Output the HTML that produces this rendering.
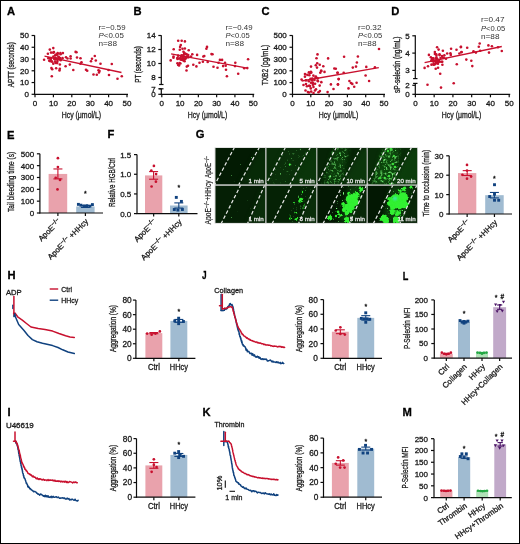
<!DOCTYPE html>
<html><head><meta charset="utf-8"><style>
html,body{margin:0;padding:0;background:#fff;overflow:hidden;}
svg{display:block;will-change:transform;}
text{font-family:"Liberation Sans",sans-serif;}
</style></head><body>
<svg width="520" height="544" viewBox="0 0 520 544" font-family="Liberation Sans, sans-serif">
<rect x="0" y="0" width="520" height="544" fill="#fff"/>
<text x="7.10" y="15.40" font-size="11.2" fill="#000" stroke="#000" stroke-width="0.3" font-weight="bold">A</text>
<line x1="34.60" y1="35.30" x2="34.60" y2="94.80" stroke="#0c0c0c" stroke-width="1.2"/>
<line x1="31.60" y1="94.30" x2="34.60" y2="94.30" stroke="#0c0c0c" stroke-width="1.2"/>
<text x="28.90" y="97.20" font-size="8" fill="#1a1a1a" stroke="#1a1a1a" stroke-width="0.3" text-anchor="end">0</text>
<line x1="31.60" y1="82.54" x2="34.60" y2="82.54" stroke="#0c0c0c" stroke-width="1.2"/>
<text x="28.90" y="85.44" font-size="8" fill="#1a1a1a" stroke="#1a1a1a" stroke-width="0.3" text-anchor="end">10</text>
<line x1="31.60" y1="70.78" x2="34.60" y2="70.78" stroke="#0c0c0c" stroke-width="1.2"/>
<text x="28.90" y="73.68" font-size="8" fill="#1a1a1a" stroke="#1a1a1a" stroke-width="0.3" text-anchor="end">20</text>
<line x1="31.60" y1="59.02" x2="34.60" y2="59.02" stroke="#0c0c0c" stroke-width="1.2"/>
<text x="28.90" y="61.92" font-size="8" fill="#1a1a1a" stroke="#1a1a1a" stroke-width="0.3" text-anchor="end">30</text>
<line x1="31.60" y1="47.26" x2="34.60" y2="47.26" stroke="#0c0c0c" stroke-width="1.2"/>
<text x="28.90" y="50.16" font-size="8" fill="#1a1a1a" stroke="#1a1a1a" stroke-width="0.3" text-anchor="end">40</text>
<line x1="31.60" y1="35.50" x2="34.60" y2="35.50" stroke="#0c0c0c" stroke-width="1.2"/>
<text x="28.90" y="38.40" font-size="8" fill="#1a1a1a" stroke="#1a1a1a" stroke-width="0.3" text-anchor="end">50</text>
<line x1="34.10" y1="94.30" x2="128.00" y2="94.30" stroke="#0c0c0c" stroke-width="1.2"/>
<line x1="35.00" y1="94.30" x2="35.00" y2="97.30" stroke="#0c0c0c" stroke-width="1.2"/>
<text x="35.00" y="106.20" font-size="8" fill="#1a1a1a" stroke="#1a1a1a" stroke-width="0.3" text-anchor="middle">0</text>
<line x1="53.40" y1="94.30" x2="53.40" y2="97.30" stroke="#0c0c0c" stroke-width="1.2"/>
<text x="53.40" y="106.20" font-size="8" fill="#1a1a1a" stroke="#1a1a1a" stroke-width="0.3" text-anchor="middle">10</text>
<line x1="71.80" y1="94.30" x2="71.80" y2="97.30" stroke="#0c0c0c" stroke-width="1.2"/>
<text x="71.80" y="106.20" font-size="8" fill="#1a1a1a" stroke="#1a1a1a" stroke-width="0.3" text-anchor="middle">20</text>
<line x1="90.20" y1="94.30" x2="90.20" y2="97.30" stroke="#0c0c0c" stroke-width="1.2"/>
<text x="90.20" y="106.20" font-size="8" fill="#1a1a1a" stroke="#1a1a1a" stroke-width="0.3" text-anchor="middle">30</text>
<line x1="108.60" y1="94.30" x2="108.60" y2="97.30" stroke="#0c0c0c" stroke-width="1.2"/>
<text x="108.60" y="106.20" font-size="8" fill="#1a1a1a" stroke="#1a1a1a" stroke-width="0.3" text-anchor="middle">40</text>
<line x1="127.00" y1="94.30" x2="127.00" y2="97.30" stroke="#0c0c0c" stroke-width="1.2"/>
<text x="127.00" y="106.20" font-size="8" fill="#1a1a1a" stroke="#1a1a1a" stroke-width="0.3" text-anchor="middle">50</text>
<text x="81.40" y="118.30" font-size="9" fill="#1a1a1a" stroke="#1a1a1a" stroke-width="0.3" text-anchor="middle" textLength="39.5" lengthAdjust="spacingAndGlyphs">Hcy (μmol/L)</text>
<text x="13.90" y="64.70" font-size="8.5" fill="#1a1a1a" stroke="#1a1a1a" stroke-width="0.3" text-anchor="middle" textLength="45" lengthAdjust="spacingAndGlyphs" transform="rotate(-90 13.90 64.70)">APTT (seconds)</text>
<text x="98.50" y="29.60" font-size="7.8" fill="#333" stroke="#333" stroke-width="0" textLength="27" lengthAdjust="spacingAndGlyphs">r=−0.59</text>
<text x="98.50" y="37.70" font-size="7.8" fill="#333" textLength="25.3" lengthAdjust="spacingAndGlyphs"><tspan font-style="italic">P</tspan>&lt;0.05</text>
<text x="98.50" y="46.10" font-size="7.8" fill="#333" stroke="#333" stroke-width="0" textLength="18.5" lengthAdjust="spacingAndGlyphs">n=88</text>
<line x1="44.50" y1="56.20" x2="121.50" y2="72.50" stroke="#c8102e" stroke-width="1.3"/>
<circle cx="53.30" cy="48.10" r="1.3" fill="#c8102e"/>
<circle cx="49.80" cy="49.60" r="1.3" fill="#c8102e"/>
<circle cx="47.90" cy="53.70" r="1.3" fill="#c8102e"/>
<circle cx="44.10" cy="59.80" r="1.3" fill="#c8102e"/>
<circle cx="50.20" cy="61.20" r="1.3" fill="#c8102e"/>
<circle cx="62.90" cy="53.10" r="1.3" fill="#c8102e"/>
<circle cx="60.60" cy="54.20" r="1.3" fill="#c8102e"/>
<circle cx="66.00" cy="57.30" r="1.3" fill="#c8102e"/>
<circle cx="67.50" cy="58.50" r="1.3" fill="#c8102e"/>
<circle cx="70.60" cy="56.20" r="1.3" fill="#c8102e"/>
<circle cx="70.60" cy="58.50" r="1.3" fill="#c8102e"/>
<circle cx="75.60" cy="51.90" r="1.3" fill="#c8102e"/>
<circle cx="69.80" cy="64.60" r="1.3" fill="#c8102e"/>
<circle cx="65.60" cy="66.20" r="1.3" fill="#c8102e"/>
<circle cx="51.40" cy="68.10" r="1.3" fill="#c8102e"/>
<circle cx="52.20" cy="69.20" r="1.3" fill="#c8102e"/>
<circle cx="59.80" cy="68.80" r="1.3" fill="#c8102e"/>
<circle cx="59.50" cy="70.40" r="1.3" fill="#c8102e"/>
<circle cx="73.30" cy="70.00" r="1.3" fill="#c8102e"/>
<circle cx="51.80" cy="76.20" r="1.3" fill="#c8102e"/>
<circle cx="76.50" cy="52.20" r="1.3" fill="#c8102e"/>
<circle cx="77.00" cy="57.50" r="1.3" fill="#c8102e"/>
<circle cx="80.50" cy="58.20" r="1.3" fill="#c8102e"/>
<circle cx="81.50" cy="62.20" r="1.3" fill="#c8102e"/>
<circle cx="80.50" cy="63.80" r="1.3" fill="#c8102e"/>
<circle cx="94.80" cy="56.00" r="1.3" fill="#c8102e"/>
<circle cx="92.00" cy="58.80" r="1.3" fill="#c8102e"/>
<circle cx="95.80" cy="60.50" r="1.3" fill="#c8102e"/>
<circle cx="91.00" cy="61.20" r="1.3" fill="#c8102e"/>
<circle cx="100.50" cy="63.80" r="1.3" fill="#c8102e"/>
<circle cx="111.80" cy="64.00" r="1.3" fill="#c8102e"/>
<circle cx="86.00" cy="69.80" r="1.3" fill="#c8102e"/>
<circle cx="87.20" cy="70.80" r="1.3" fill="#c8102e"/>
<circle cx="98.50" cy="70.20" r="1.3" fill="#c8102e"/>
<circle cx="99.50" cy="71.00" r="1.3" fill="#c8102e"/>
<circle cx="99.00" cy="72.50" r="1.3" fill="#c8102e"/>
<circle cx="93.50" cy="74.50" r="1.3" fill="#c8102e"/>
<circle cx="96.80" cy="74.70" r="1.3" fill="#c8102e"/>
<circle cx="108.50" cy="70.00" r="1.3" fill="#c8102e"/>
<circle cx="109.00" cy="75.00" r="1.3" fill="#c8102e"/>
<circle cx="117.50" cy="78.80" r="1.3" fill="#c8102e"/>
<circle cx="121.80" cy="76.30" r="1.3" fill="#c8102e"/>
<circle cx="59.86" cy="64.45" r="1.3" fill="#c8102e"/>
<circle cx="55.20" cy="55.37" r="1.3" fill="#c8102e"/>
<circle cx="50.79" cy="58.64" r="1.3" fill="#c8102e"/>
<circle cx="51.06" cy="52.62" r="1.3" fill="#c8102e"/>
<circle cx="55.71" cy="59.05" r="1.3" fill="#c8102e"/>
<circle cx="57.03" cy="54.76" r="1.3" fill="#c8102e"/>
<circle cx="54.97" cy="58.24" r="1.3" fill="#c8102e"/>
<circle cx="49.22" cy="60.71" r="1.3" fill="#c8102e"/>
<circle cx="56.17" cy="68.30" r="1.3" fill="#c8102e"/>
<circle cx="55.72" cy="57.91" r="1.3" fill="#c8102e"/>
<circle cx="59.65" cy="59.32" r="1.3" fill="#c8102e"/>
<circle cx="58.41" cy="57.01" r="1.3" fill="#c8102e"/>
<circle cx="55.78" cy="62.71" r="1.3" fill="#c8102e"/>
<circle cx="57.60" cy="59.03" r="1.3" fill="#c8102e"/>
<circle cx="50.83" cy="60.33" r="1.3" fill="#c8102e"/>
<circle cx="55.24" cy="61.46" r="1.3" fill="#c8102e"/>
<circle cx="55.77" cy="62.97" r="1.3" fill="#c8102e"/>
<circle cx="54.75" cy="59.34" r="1.3" fill="#c8102e"/>
<circle cx="57.49" cy="54.05" r="1.3" fill="#c8102e"/>
<circle cx="53.42" cy="56.46" r="1.3" fill="#c8102e"/>
<circle cx="62.50" cy="58.13" r="1.3" fill="#c8102e"/>
<circle cx="57.44" cy="61.05" r="1.3" fill="#c8102e"/>
<circle cx="53.88" cy="52.15" r="1.3" fill="#c8102e"/>
<circle cx="58.63" cy="56.84" r="1.3" fill="#c8102e"/>
<circle cx="57.69" cy="53.16" r="1.3" fill="#c8102e"/>
<circle cx="53.28" cy="63.66" r="1.3" fill="#c8102e"/>
<circle cx="60.40" cy="53.17" r="1.3" fill="#c8102e"/>
<circle cx="49.87" cy="58.33" r="1.3" fill="#c8102e"/>
<circle cx="57.73" cy="59.17" r="1.3" fill="#c8102e"/>
<circle cx="56.11" cy="54.45" r="1.3" fill="#c8102e"/>
<circle cx="57.19" cy="63.09" r="1.3" fill="#c8102e"/>
<circle cx="53.29" cy="52.63" r="1.3" fill="#c8102e"/>
<circle cx="52.06" cy="61.63" r="1.3" fill="#c8102e"/>
<circle cx="48.35" cy="58.13" r="1.3" fill="#c8102e"/>
<circle cx="51.18" cy="57.97" r="1.3" fill="#c8102e"/>
<circle cx="54.02" cy="58.57" r="1.3" fill="#c8102e"/>
<circle cx="60.67" cy="60.23" r="1.3" fill="#c8102e"/>
<circle cx="60.03" cy="57.93" r="1.3" fill="#c8102e"/>
<text x="133.60" y="15.40" font-size="11.2" fill="#000" stroke="#000" stroke-width="0.3" font-weight="bold">B</text>
<line x1="161.30" y1="35.30" x2="161.30" y2="84.50" stroke="#0c0c0c" stroke-width="1.2"/>
<line x1="159.10" y1="84.50" x2="163.50" y2="84.50" stroke="#0c0c0c" stroke-width="1.2"/>
<line x1="161.30" y1="88.80" x2="161.30" y2="94.80" stroke="#0c0c0c" stroke-width="1.2"/>
<line x1="159.10" y1="88.80" x2="163.50" y2="88.80" stroke="#0c0c0c" stroke-width="1.2"/>
<line x1="158.30" y1="35.50" x2="161.30" y2="35.50" stroke="#0c0c0c" stroke-width="1.2"/>
<text x="155.60" y="38.40" font-size="8" fill="#1a1a1a" stroke="#1a1a1a" stroke-width="0.3" text-anchor="end">14</text>
<line x1="158.30" y1="49.50" x2="161.30" y2="49.50" stroke="#0c0c0c" stroke-width="1.2"/>
<text x="155.60" y="52.40" font-size="8" fill="#1a1a1a" stroke="#1a1a1a" stroke-width="0.3" text-anchor="end">12</text>
<line x1="158.30" y1="63.50" x2="161.30" y2="63.50" stroke="#0c0c0c" stroke-width="1.2"/>
<text x="155.60" y="66.40" font-size="8" fill="#1a1a1a" stroke="#1a1a1a" stroke-width="0.3" text-anchor="end">10</text>
<line x1="158.30" y1="77.50" x2="161.30" y2="77.50" stroke="#0c0c0c" stroke-width="1.2"/>
<text x="155.60" y="80.40" font-size="8" fill="#1a1a1a" stroke="#1a1a1a" stroke-width="0.3" text-anchor="end">8</text>
<line x1="158.30" y1="88.80" x2="161.30" y2="88.80" stroke="#0c0c0c" stroke-width="1.2"/>
<text x="155.60" y="91.70" font-size="8" fill="#1a1a1a" stroke="#1a1a1a" stroke-width="0.3" text-anchor="end">7</text>
<line x1="158.30" y1="94.30" x2="161.30" y2="94.30" stroke="#0c0c0c" stroke-width="1.2"/>
<text x="155.60" y="97.20" font-size="8" fill="#1a1a1a" stroke="#1a1a1a" stroke-width="0.3" text-anchor="end">0</text>
<line x1="160.80" y1="94.30" x2="254.20" y2="94.30" stroke="#0c0c0c" stroke-width="1.2"/>
<line x1="161.80" y1="94.30" x2="161.80" y2="97.30" stroke="#0c0c0c" stroke-width="1.2"/>
<text x="161.80" y="106.20" font-size="8" fill="#1a1a1a" stroke="#1a1a1a" stroke-width="0.3" text-anchor="middle">0</text>
<line x1="180.08" y1="94.30" x2="180.08" y2="97.30" stroke="#0c0c0c" stroke-width="1.2"/>
<text x="180.08" y="106.20" font-size="8" fill="#1a1a1a" stroke="#1a1a1a" stroke-width="0.3" text-anchor="middle">10</text>
<line x1="198.36" y1="94.30" x2="198.36" y2="97.30" stroke="#0c0c0c" stroke-width="1.2"/>
<text x="198.36" y="106.20" font-size="8" fill="#1a1a1a" stroke="#1a1a1a" stroke-width="0.3" text-anchor="middle">20</text>
<line x1="216.64" y1="94.30" x2="216.64" y2="97.30" stroke="#0c0c0c" stroke-width="1.2"/>
<text x="216.64" y="106.20" font-size="8" fill="#1a1a1a" stroke="#1a1a1a" stroke-width="0.3" text-anchor="middle">30</text>
<line x1="234.92" y1="94.30" x2="234.92" y2="97.30" stroke="#0c0c0c" stroke-width="1.2"/>
<text x="234.92" y="106.20" font-size="8" fill="#1a1a1a" stroke="#1a1a1a" stroke-width="0.3" text-anchor="middle">40</text>
<line x1="253.20" y1="94.30" x2="253.20" y2="97.30" stroke="#0c0c0c" stroke-width="1.2"/>
<text x="253.20" y="106.20" font-size="8" fill="#1a1a1a" stroke="#1a1a1a" stroke-width="0.3" text-anchor="middle">50</text>
<text x="207.50" y="118.30" font-size="9" fill="#1a1a1a" stroke="#1a1a1a" stroke-width="0.3" text-anchor="middle" textLength="39.5" lengthAdjust="spacingAndGlyphs">Hcy (μmol/L)</text>
<text x="141.50" y="64.40" font-size="8.5" fill="#1a1a1a" stroke="#1a1a1a" stroke-width="0.3" text-anchor="middle" textLength="36.6" lengthAdjust="spacingAndGlyphs" transform="rotate(-90 141.50 64.40)">PT (seconds)</text>
<text x="225.50" y="29.60" font-size="7.8" fill="#333" stroke="#333" stroke-width="0" textLength="27" lengthAdjust="spacingAndGlyphs">r=−0.49</text>
<text x="225.50" y="37.70" font-size="7.8" fill="#333" textLength="24.3" lengthAdjust="spacingAndGlyphs"><tspan font-style="italic">P</tspan>&lt;0.05</text>
<text x="225.50" y="46.10" font-size="7.8" fill="#333" stroke="#333" stroke-width="0" textLength="18.5" lengthAdjust="spacingAndGlyphs">n=88</text>
<line x1="171.10" y1="53.90" x2="247.30" y2="68.10" stroke="#c8102e" stroke-width="1.3"/>
<circle cx="178.20" cy="40.80" r="1.3" fill="#c8102e"/>
<circle cx="181.70" cy="40.80" r="1.3" fill="#c8102e"/>
<circle cx="184.90" cy="41.40" r="1.3" fill="#c8102e"/>
<circle cx="180.80" cy="45.00" r="1.3" fill="#c8102e"/>
<circle cx="180.10" cy="46.90" r="1.3" fill="#c8102e"/>
<circle cx="179.80" cy="49.80" r="1.3" fill="#c8102e"/>
<circle cx="173.70" cy="49.30" r="1.3" fill="#c8102e"/>
<circle cx="184.90" cy="48.50" r="1.3" fill="#c8102e"/>
<circle cx="188.70" cy="50.30" r="1.3" fill="#c8102e"/>
<circle cx="207.00" cy="46.90" r="1.3" fill="#c8102e"/>
<circle cx="206.40" cy="48.80" r="1.3" fill="#c8102e"/>
<circle cx="192.30" cy="54.30" r="1.3" fill="#c8102e"/>
<circle cx="197.10" cy="54.90" r="1.3" fill="#c8102e"/>
<circle cx="203.30" cy="56.50" r="1.3" fill="#c8102e"/>
<circle cx="204.30" cy="56.00" r="1.3" fill="#c8102e"/>
<circle cx="170.70" cy="60.40" r="1.3" fill="#c8102e"/>
<circle cx="173.50" cy="56.50" r="1.3" fill="#c8102e"/>
<circle cx="177.40" cy="63.30" r="1.3" fill="#c8102e"/>
<circle cx="178.20" cy="64.90" r="1.3" fill="#c8102e"/>
<circle cx="193.30" cy="64.70" r="1.3" fill="#c8102e"/>
<circle cx="196.40" cy="66.40" r="1.3" fill="#c8102e"/>
<circle cx="186.80" cy="66.60" r="1.3" fill="#c8102e"/>
<circle cx="188.00" cy="65.80" r="1.3" fill="#c8102e"/>
<circle cx="186.50" cy="70.50" r="1.3" fill="#c8102e"/>
<circle cx="199.50" cy="62.80" r="1.3" fill="#c8102e"/>
<circle cx="202.90" cy="61.80" r="1.3" fill="#c8102e"/>
<circle cx="207.70" cy="62.00" r="1.3" fill="#c8102e"/>
<circle cx="211.50" cy="54.10" r="1.3" fill="#c8102e"/>
<circle cx="212.50" cy="54.30" r="1.3" fill="#c8102e"/>
<circle cx="213.50" cy="66.80" r="1.3" fill="#c8102e"/>
<circle cx="217.50" cy="67.80" r="1.3" fill="#c8102e"/>
<circle cx="219.90" cy="59.90" r="1.3" fill="#c8102e"/>
<circle cx="222.10" cy="59.90" r="1.3" fill="#c8102e"/>
<circle cx="218.50" cy="62.80" r="1.3" fill="#c8102e"/>
<circle cx="225.00" cy="62.80" r="1.3" fill="#c8102e"/>
<circle cx="223.10" cy="66.10" r="1.3" fill="#c8102e"/>
<circle cx="225.70" cy="65.80" r="1.3" fill="#c8102e"/>
<circle cx="226.00" cy="69.70" r="1.3" fill="#c8102e"/>
<circle cx="226.90" cy="76.20" r="1.3" fill="#c8102e"/>
<circle cx="235.30" cy="62.80" r="1.3" fill="#c8102e"/>
<circle cx="235.00" cy="66.10" r="1.3" fill="#c8102e"/>
<circle cx="238.20" cy="73.80" r="1.3" fill="#c8102e"/>
<circle cx="244.20" cy="68.30" r="1.3" fill="#c8102e"/>
<circle cx="248.10" cy="59.20" r="1.3" fill="#c8102e"/>
<circle cx="247.30" cy="68.10" r="1.3" fill="#c8102e"/>
<circle cx="190.98" cy="56.48" r="1.3" fill="#c8102e"/>
<circle cx="185.28" cy="58.97" r="1.3" fill="#c8102e"/>
<circle cx="186.57" cy="54.21" r="1.3" fill="#c8102e"/>
<circle cx="182.90" cy="56.21" r="1.3" fill="#c8102e"/>
<circle cx="180.97" cy="55.92" r="1.3" fill="#c8102e"/>
<circle cx="182.62" cy="57.63" r="1.3" fill="#c8102e"/>
<circle cx="181.46" cy="59.81" r="1.3" fill="#c8102e"/>
<circle cx="182.51" cy="48.69" r="1.3" fill="#c8102e"/>
<circle cx="187.61" cy="57.31" r="1.3" fill="#c8102e"/>
<circle cx="181.94" cy="59.34" r="1.3" fill="#c8102e"/>
<circle cx="184.79" cy="58.68" r="1.3" fill="#c8102e"/>
<circle cx="181.61" cy="59.10" r="1.3" fill="#c8102e"/>
<circle cx="179.61" cy="62.95" r="1.3" fill="#c8102e"/>
<circle cx="180.41" cy="57.88" r="1.3" fill="#c8102e"/>
<circle cx="184.17" cy="59.19" r="1.3" fill="#c8102e"/>
<circle cx="183.40" cy="60.00" r="1.3" fill="#c8102e"/>
<circle cx="173.46" cy="57.80" r="1.3" fill="#c8102e"/>
<circle cx="183.27" cy="56.78" r="1.3" fill="#c8102e"/>
<circle cx="188.23" cy="55.12" r="1.3" fill="#c8102e"/>
<circle cx="183.49" cy="51.86" r="1.3" fill="#c8102e"/>
<circle cx="184.54" cy="53.11" r="1.3" fill="#c8102e"/>
<circle cx="179.11" cy="65.39" r="1.3" fill="#c8102e"/>
<circle cx="185.81" cy="58.08" r="1.3" fill="#c8102e"/>
<circle cx="184.24" cy="53.65" r="1.3" fill="#c8102e"/>
<circle cx="180.62" cy="59.42" r="1.3" fill="#c8102e"/>
<circle cx="177.46" cy="58.95" r="1.3" fill="#c8102e"/>
<circle cx="178.58" cy="58.48" r="1.3" fill="#c8102e"/>
<circle cx="180.43" cy="63.57" r="1.3" fill="#c8102e"/>
<circle cx="186.75" cy="56.50" r="1.3" fill="#c8102e"/>
<circle cx="178.11" cy="55.66" r="1.3" fill="#c8102e"/>
<circle cx="183.56" cy="55.02" r="1.3" fill="#c8102e"/>
<circle cx="184.58" cy="61.19" r="1.3" fill="#c8102e"/>
<circle cx="183.57" cy="56.76" r="1.3" fill="#c8102e"/>
<circle cx="186.06" cy="57.19" r="1.3" fill="#c8102e"/>
<circle cx="186.26" cy="57.12" r="1.3" fill="#c8102e"/>
<circle cx="188.55" cy="57.24" r="1.3" fill="#c8102e"/>
<circle cx="180.58" cy="58.42" r="1.3" fill="#c8102e"/>
<circle cx="181.85" cy="55.18" r="1.3" fill="#c8102e"/>
<circle cx="183.36" cy="60.46" r="1.3" fill="#c8102e"/>
<circle cx="177.30" cy="57.98" r="1.3" fill="#c8102e"/>
<circle cx="183.29" cy="57.66" r="1.3" fill="#c8102e"/>
<circle cx="186.14" cy="54.05" r="1.3" fill="#c8102e"/>
<text x="261.40" y="15.40" font-size="11.2" fill="#000" stroke="#000" stroke-width="0.3" font-weight="bold">C</text>
<line x1="292.50" y1="35.30" x2="292.50" y2="94.80" stroke="#0c0c0c" stroke-width="1.2"/>
<line x1="289.50" y1="94.30" x2="292.50" y2="94.30" stroke="#0c0c0c" stroke-width="1.2"/>
<text x="286.80" y="97.20" font-size="8" fill="#1a1a1a" stroke="#1a1a1a" stroke-width="0.3" text-anchor="end">0</text>
<line x1="289.50" y1="82.54" x2="292.50" y2="82.54" stroke="#0c0c0c" stroke-width="1.2"/>
<text x="286.80" y="85.44" font-size="8" fill="#1a1a1a" stroke="#1a1a1a" stroke-width="0.3" text-anchor="end">100</text>
<line x1="289.50" y1="70.78" x2="292.50" y2="70.78" stroke="#0c0c0c" stroke-width="1.2"/>
<text x="286.80" y="73.68" font-size="8" fill="#1a1a1a" stroke="#1a1a1a" stroke-width="0.3" text-anchor="end">200</text>
<line x1="289.50" y1="59.02" x2="292.50" y2="59.02" stroke="#0c0c0c" stroke-width="1.2"/>
<text x="286.80" y="61.92" font-size="8" fill="#1a1a1a" stroke="#1a1a1a" stroke-width="0.3" text-anchor="end">300</text>
<line x1="289.50" y1="47.26" x2="292.50" y2="47.26" stroke="#0c0c0c" stroke-width="1.2"/>
<text x="286.80" y="50.16" font-size="8" fill="#1a1a1a" stroke="#1a1a1a" stroke-width="0.3" text-anchor="end">400</text>
<line x1="289.50" y1="35.50" x2="292.50" y2="35.50" stroke="#0c0c0c" stroke-width="1.2"/>
<text x="286.80" y="38.40" font-size="8" fill="#1a1a1a" stroke="#1a1a1a" stroke-width="0.3" text-anchor="end">500</text>
<line x1="292.00" y1="94.30" x2="385.00" y2="94.30" stroke="#0c0c0c" stroke-width="1.2"/>
<line x1="292.50" y1="94.30" x2="292.50" y2="97.30" stroke="#0c0c0c" stroke-width="1.2"/>
<text x="292.50" y="106.20" font-size="8" fill="#1a1a1a" stroke="#1a1a1a" stroke-width="0.3" text-anchor="middle">0</text>
<line x1="310.80" y1="94.30" x2="310.80" y2="97.30" stroke="#0c0c0c" stroke-width="1.2"/>
<text x="310.80" y="106.20" font-size="8" fill="#1a1a1a" stroke="#1a1a1a" stroke-width="0.3" text-anchor="middle">10</text>
<line x1="329.10" y1="94.30" x2="329.10" y2="97.30" stroke="#0c0c0c" stroke-width="1.2"/>
<text x="329.10" y="106.20" font-size="8" fill="#1a1a1a" stroke="#1a1a1a" stroke-width="0.3" text-anchor="middle">20</text>
<line x1="347.40" y1="94.30" x2="347.40" y2="97.30" stroke="#0c0c0c" stroke-width="1.2"/>
<text x="347.40" y="106.20" font-size="8" fill="#1a1a1a" stroke="#1a1a1a" stroke-width="0.3" text-anchor="middle">30</text>
<line x1="365.70" y1="94.30" x2="365.70" y2="97.30" stroke="#0c0c0c" stroke-width="1.2"/>
<text x="365.70" y="106.20" font-size="8" fill="#1a1a1a" stroke="#1a1a1a" stroke-width="0.3" text-anchor="middle">40</text>
<line x1="384.00" y1="94.30" x2="384.00" y2="97.30" stroke="#0c0c0c" stroke-width="1.2"/>
<text x="384.00" y="106.20" font-size="8" fill="#1a1a1a" stroke="#1a1a1a" stroke-width="0.3" text-anchor="middle">50</text>
<text x="338.50" y="118.30" font-size="9" fill="#1a1a1a" stroke="#1a1a1a" stroke-width="0.3" text-anchor="middle" textLength="39.5" lengthAdjust="spacingAndGlyphs">Hcy (μmol/L)</text>
<text x="268.30" y="65.00" font-size="8.5" fill="#1a1a1a" stroke="#1a1a1a" stroke-width="0.3" text-anchor="middle" textLength="40.5" lengthAdjust="spacingAndGlyphs" transform="rotate(-90 268.30 65.00)">TXB2 (pg/mL)</text>
<text x="358.00" y="29.60" font-size="7.8" fill="#333" stroke="#333" stroke-width="0" textLength="23.5" lengthAdjust="spacingAndGlyphs">r=0.32</text>
<text x="358.00" y="37.70" font-size="7.8" fill="#333" textLength="24.3" lengthAdjust="spacingAndGlyphs"><tspan font-style="italic">P</tspan>&lt;0.05</text>
<text x="358.00" y="46.10" font-size="7.8" fill="#333" stroke="#333" stroke-width="0" textLength="18.5" lengthAdjust="spacingAndGlyphs">n=88</text>
<line x1="301.60" y1="81.00" x2="378.80" y2="67.60" stroke="#c8102e" stroke-width="1.3"/>
<circle cx="317.50" cy="54.40" r="1.3" fill="#c8102e"/>
<circle cx="316.50" cy="58.20" r="1.3" fill="#c8102e"/>
<circle cx="328.10" cy="58.40" r="1.3" fill="#c8102e"/>
<circle cx="317.20" cy="63.20" r="1.3" fill="#c8102e"/>
<circle cx="315.80" cy="65.30" r="1.3" fill="#c8102e"/>
<circle cx="319.70" cy="64.70" r="1.3" fill="#c8102e"/>
<circle cx="317.00" cy="67.60" r="1.3" fill="#c8102e"/>
<circle cx="311.00" cy="66.60" r="1.3" fill="#c8102e"/>
<circle cx="323.30" cy="66.30" r="1.3" fill="#c8102e"/>
<circle cx="334.30" cy="68.50" r="1.3" fill="#c8102e"/>
<circle cx="335.80" cy="68.80" r="1.3" fill="#c8102e"/>
<circle cx="305.00" cy="74.00" r="1.3" fill="#c8102e"/>
<circle cx="309.80" cy="73.30" r="1.3" fill="#c8102e"/>
<circle cx="309.30" cy="75.30" r="1.3" fill="#c8102e"/>
<circle cx="324.50" cy="71.90" r="1.3" fill="#c8102e"/>
<circle cx="337.70" cy="72.80" r="1.3" fill="#c8102e"/>
<circle cx="301.60" cy="79.60" r="1.3" fill="#c8102e"/>
<circle cx="338.60" cy="79.10" r="1.3" fill="#c8102e"/>
<circle cx="330.90" cy="84.40" r="1.3" fill="#c8102e"/>
<circle cx="338.00" cy="84.40" r="1.3" fill="#c8102e"/>
<circle cx="333.50" cy="89.00" r="1.3" fill="#c8102e"/>
<circle cx="327.60" cy="92.10" r="1.3" fill="#c8102e"/>
<circle cx="310.80" cy="88.40" r="1.3" fill="#c8102e"/>
<circle cx="307.90" cy="92.10" r="1.3" fill="#c8102e"/>
<circle cx="311.20" cy="91.60" r="1.3" fill="#c8102e"/>
<circle cx="316.00" cy="89.20" r="1.3" fill="#c8102e"/>
<circle cx="319.90" cy="91.10" r="1.3" fill="#c8102e"/>
<circle cx="379.00" cy="49.00" r="1.3" fill="#c8102e"/>
<circle cx="344.10" cy="56.70" r="1.3" fill="#c8102e"/>
<circle cx="357.90" cy="56.50" r="1.3" fill="#c8102e"/>
<circle cx="356.90" cy="62.50" r="1.3" fill="#c8102e"/>
<circle cx="356.00" cy="66.60" r="1.3" fill="#c8102e"/>
<circle cx="352.80" cy="67.60" r="1.3" fill="#c8102e"/>
<circle cx="366.30" cy="66.90" r="1.3" fill="#c8102e"/>
<circle cx="374.90" cy="67.30" r="1.3" fill="#c8102e"/>
<circle cx="337.40" cy="72.80" r="1.3" fill="#c8102e"/>
<circle cx="343.70" cy="72.70" r="1.3" fill="#c8102e"/>
<circle cx="338.70" cy="79.10" r="1.3" fill="#c8102e"/>
<circle cx="337.90" cy="84.40" r="1.3" fill="#c8102e"/>
<circle cx="365.60" cy="75.50" r="1.3" fill="#c8102e"/>
<circle cx="369.10" cy="81.00" r="1.3" fill="#c8102e"/>
<circle cx="349.40" cy="81.00" r="1.3" fill="#c8102e"/>
<circle cx="350.90" cy="83.00" r="1.3" fill="#c8102e"/>
<circle cx="352.30" cy="83.90" r="1.3" fill="#c8102e"/>
<circle cx="356.60" cy="82.70" r="1.3" fill="#c8102e"/>
<circle cx="354.20" cy="86.80" r="1.3" fill="#c8102e"/>
<circle cx="348.50" cy="88.40" r="1.3" fill="#c8102e"/>
<circle cx="313.48" cy="86.91" r="1.3" fill="#c8102e"/>
<circle cx="309.02" cy="85.79" r="1.3" fill="#c8102e"/>
<circle cx="311.94" cy="80.29" r="1.3" fill="#c8102e"/>
<circle cx="321.32" cy="82.13" r="1.3" fill="#c8102e"/>
<circle cx="312.88" cy="84.63" r="1.3" fill="#c8102e"/>
<circle cx="317.96" cy="81.30" r="1.3" fill="#c8102e"/>
<circle cx="315.62" cy="77.17" r="1.3" fill="#c8102e"/>
<circle cx="311.47" cy="79.52" r="1.3" fill="#c8102e"/>
<circle cx="307.27" cy="74.83" r="1.3" fill="#c8102e"/>
<circle cx="305.99" cy="80.39" r="1.3" fill="#c8102e"/>
<circle cx="312.31" cy="80.04" r="1.3" fill="#c8102e"/>
<circle cx="313.36" cy="75.59" r="1.3" fill="#c8102e"/>
<circle cx="312.72" cy="82.48" r="1.3" fill="#c8102e"/>
<circle cx="316.33" cy="77.73" r="1.3" fill="#c8102e"/>
<circle cx="311.33" cy="72.61" r="1.3" fill="#c8102e"/>
<circle cx="310.87" cy="71.82" r="1.3" fill="#c8102e"/>
<circle cx="306.89" cy="86.26" r="1.3" fill="#c8102e"/>
<circle cx="303.50" cy="84.94" r="1.3" fill="#c8102e"/>
<circle cx="314.49" cy="80.07" r="1.3" fill="#c8102e"/>
<circle cx="315.06" cy="83.75" r="1.3" fill="#c8102e"/>
<circle cx="317.61" cy="80.43" r="1.3" fill="#c8102e"/>
<circle cx="310.49" cy="78.79" r="1.3" fill="#c8102e"/>
<circle cx="308.78" cy="81.24" r="1.3" fill="#c8102e"/>
<circle cx="309.65" cy="86.12" r="1.3" fill="#c8102e"/>
<circle cx="304.94" cy="76.65" r="1.3" fill="#c8102e"/>
<circle cx="308.92" cy="72.27" r="1.3" fill="#c8102e"/>
<circle cx="321.33" cy="70.89" r="1.3" fill="#c8102e"/>
<circle cx="311.83" cy="79.14" r="1.3" fill="#c8102e"/>
<circle cx="320.26" cy="72.74" r="1.3" fill="#c8102e"/>
<circle cx="317.72" cy="78.24" r="1.3" fill="#c8102e"/>
<circle cx="312.39" cy="78.50" r="1.3" fill="#c8102e"/>
<circle cx="315.85" cy="76.46" r="1.3" fill="#c8102e"/>
<circle cx="312.72" cy="82.99" r="1.3" fill="#c8102e"/>
<circle cx="321.06" cy="70.90" r="1.3" fill="#c8102e"/>
<circle cx="319.69" cy="85.59" r="1.3" fill="#c8102e"/>
<circle cx="310.96" cy="82.78" r="1.3" fill="#c8102e"/>
<circle cx="305.50" cy="90.50" r="1.3" fill="#c8102e"/>
<circle cx="309.00" cy="92.50" r="1.3" fill="#c8102e"/>
<circle cx="313.50" cy="93.00" r="1.3" fill="#c8102e"/>
<circle cx="315.00" cy="90.50" r="1.3" fill="#c8102e"/>
<circle cx="318.50" cy="92.20" r="1.3" fill="#c8102e"/>
<circle cx="310.00" cy="86.00" r="1.3" fill="#c8102e"/>
<circle cx="306.00" cy="84.00" r="1.3" fill="#c8102e"/>
<text x="391.20" y="15.40" font-size="11.2" fill="#000" stroke="#000" stroke-width="0.3" font-weight="bold">D</text>
<line x1="415.30" y1="35.30" x2="415.30" y2="78.60" stroke="#0c0c0c" stroke-width="1.2"/>
<line x1="413.10" y1="78.60" x2="417.50" y2="78.60" stroke="#0c0c0c" stroke-width="1.2"/>
<line x1="415.30" y1="83.40" x2="415.30" y2="94.80" stroke="#0c0c0c" stroke-width="1.2"/>
<line x1="413.10" y1="83.40" x2="417.50" y2="83.40" stroke="#0c0c0c" stroke-width="1.2"/>
<line x1="412.30" y1="35.80" x2="415.30" y2="35.80" stroke="#0c0c0c" stroke-width="1.2"/>
<text x="409.60" y="38.70" font-size="8" fill="#1a1a1a" stroke="#1a1a1a" stroke-width="0.3" text-anchor="end">5</text>
<line x1="412.30" y1="53.10" x2="415.30" y2="53.10" stroke="#0c0c0c" stroke-width="1.2"/>
<text x="409.60" y="56.00" font-size="8" fill="#1a1a1a" stroke="#1a1a1a" stroke-width="0.3" text-anchor="end">4</text>
<line x1="412.30" y1="70.40" x2="415.30" y2="70.40" stroke="#0c0c0c" stroke-width="1.2"/>
<text x="409.60" y="73.30" font-size="8" fill="#1a1a1a" stroke="#1a1a1a" stroke-width="0.3" text-anchor="end">3</text>
<line x1="412.30" y1="85.30" x2="415.30" y2="85.30" stroke="#0c0c0c" stroke-width="1.2"/>
<text x="409.60" y="88.20" font-size="8" fill="#1a1a1a" stroke="#1a1a1a" stroke-width="0.3" text-anchor="end">2</text>
<line x1="412.30" y1="94.30" x2="415.30" y2="94.30" stroke="#0c0c0c" stroke-width="1.2"/>
<text x="409.60" y="97.20" font-size="8" fill="#1a1a1a" stroke="#1a1a1a" stroke-width="0.3" text-anchor="end">0</text>
<line x1="414.80" y1="94.30" x2="510.20" y2="94.30" stroke="#0c0c0c" stroke-width="1.2"/>
<line x1="415.40" y1="94.30" x2="415.40" y2="97.30" stroke="#0c0c0c" stroke-width="1.2"/>
<text x="415.40" y="106.20" font-size="8" fill="#1a1a1a" stroke="#1a1a1a" stroke-width="0.3" text-anchor="middle">0</text>
<line x1="434.16" y1="94.30" x2="434.16" y2="97.30" stroke="#0c0c0c" stroke-width="1.2"/>
<text x="434.16" y="106.20" font-size="8" fill="#1a1a1a" stroke="#1a1a1a" stroke-width="0.3" text-anchor="middle">10</text>
<line x1="452.92" y1="94.30" x2="452.92" y2="97.30" stroke="#0c0c0c" stroke-width="1.2"/>
<text x="452.92" y="106.20" font-size="8" fill="#1a1a1a" stroke="#1a1a1a" stroke-width="0.3" text-anchor="middle">20</text>
<line x1="471.68" y1="94.30" x2="471.68" y2="97.30" stroke="#0c0c0c" stroke-width="1.2"/>
<text x="471.68" y="106.20" font-size="8" fill="#1a1a1a" stroke="#1a1a1a" stroke-width="0.3" text-anchor="middle">30</text>
<line x1="490.44" y1="94.30" x2="490.44" y2="97.30" stroke="#0c0c0c" stroke-width="1.2"/>
<text x="490.44" y="106.20" font-size="8" fill="#1a1a1a" stroke="#1a1a1a" stroke-width="0.3" text-anchor="middle">40</text>
<line x1="509.20" y1="94.30" x2="509.20" y2="97.30" stroke="#0c0c0c" stroke-width="1.2"/>
<text x="509.20" y="106.20" font-size="8" fill="#1a1a1a" stroke="#1a1a1a" stroke-width="0.3" text-anchor="middle">50</text>
<text x="461.50" y="118.30" font-size="9" fill="#1a1a1a" stroke="#1a1a1a" stroke-width="0.3" text-anchor="middle" textLength="39.5" lengthAdjust="spacingAndGlyphs">Hcy (μmol/L)</text>
<text x="399.80" y="64.70" font-size="8.5" fill="#1a1a1a" stroke="#1a1a1a" stroke-width="0.3" text-anchor="middle" textLength="56.5" lengthAdjust="spacingAndGlyphs" transform="rotate(-90 399.80 64.70)">sP-selectin (ng/mL)</text>
<text x="481.00" y="22.20" font-size="7.8" fill="#333" stroke="#333" stroke-width="0" textLength="23.5" lengthAdjust="spacingAndGlyphs">r=0.47</text>
<text x="481.00" y="30.80" font-size="7.8" fill="#333" textLength="24.3" lengthAdjust="spacingAndGlyphs"><tspan font-style="italic">P</tspan>&lt;0.05</text>
<text x="481.00" y="39.40" font-size="7.8" fill="#333" stroke="#333" stroke-width="0" textLength="18.5" lengthAdjust="spacingAndGlyphs">n=88</text>
<line x1="424.60" y1="62.60" x2="501.80" y2="46.50" stroke="#c8102e" stroke-width="1.3"/>
<circle cx="437.10" cy="47.20" r="1.3" fill="#c8102e"/>
<circle cx="438.60" cy="49.60" r="1.3" fill="#c8102e"/>
<circle cx="442.90" cy="50.80" r="1.3" fill="#c8102e"/>
<circle cx="451.10" cy="48.70" r="1.3" fill="#c8102e"/>
<circle cx="456.50" cy="49.80" r="1.3" fill="#c8102e"/>
<circle cx="461.00" cy="46.90" r="1.3" fill="#c8102e"/>
<circle cx="428.90" cy="54.90" r="1.3" fill="#c8102e"/>
<circle cx="436.20" cy="54.20" r="1.3" fill="#c8102e"/>
<circle cx="439.50" cy="54.40" r="1.3" fill="#c8102e"/>
<circle cx="447.20" cy="53.50" r="1.3" fill="#c8102e"/>
<circle cx="450.40" cy="53.30" r="1.3" fill="#c8102e"/>
<circle cx="450.80" cy="54.90" r="1.3" fill="#c8102e"/>
<circle cx="461.60" cy="52.00" r="1.3" fill="#c8102e"/>
<circle cx="459.40" cy="53.50" r="1.3" fill="#c8102e"/>
<circle cx="446.00" cy="58.80" r="1.3" fill="#c8102e"/>
<circle cx="424.60" cy="67.90" r="1.3" fill="#c8102e"/>
<circle cx="428.00" cy="66.20" r="1.3" fill="#c8102e"/>
<circle cx="435.70" cy="68.80" r="1.3" fill="#c8102e"/>
<circle cx="442.40" cy="64.80" r="1.3" fill="#c8102e"/>
<circle cx="456.80" cy="64.20" r="1.3" fill="#c8102e"/>
<circle cx="440.20" cy="73.80" r="1.3" fill="#c8102e"/>
<circle cx="427.50" cy="84.70" r="1.3" fill="#c8102e"/>
<circle cx="441.00" cy="87.60" r="1.3" fill="#c8102e"/>
<circle cx="453.70" cy="83.30" r="1.3" fill="#c8102e"/>
<circle cx="460.80" cy="47.10" r="1.3" fill="#c8102e"/>
<circle cx="467.20" cy="47.80" r="1.3" fill="#c8102e"/>
<circle cx="461.40" cy="52.30" r="1.3" fill="#c8102e"/>
<circle cx="479.70" cy="43.50" r="1.3" fill="#c8102e"/>
<circle cx="478.80" cy="46.80" r="1.3" fill="#c8102e"/>
<circle cx="488.40" cy="45.40" r="1.3" fill="#c8102e"/>
<circle cx="491.90" cy="46.30" r="1.3" fill="#c8102e"/>
<circle cx="498.00" cy="47.30" r="1.3" fill="#c8102e"/>
<circle cx="473.50" cy="51.30" r="1.3" fill="#c8102e"/>
<circle cx="475.90" cy="52.60" r="1.3" fill="#c8102e"/>
<circle cx="480.20" cy="50.70" r="1.3" fill="#c8102e"/>
<circle cx="489.00" cy="52.60" r="1.3" fill="#c8102e"/>
<circle cx="501.80" cy="51.00" r="1.3" fill="#c8102e"/>
<circle cx="466.30" cy="59.60" r="1.3" fill="#c8102e"/>
<circle cx="471.30" cy="60.80" r="1.3" fill="#c8102e"/>
<circle cx="472.30" cy="66.10" r="1.3" fill="#c8102e"/>
<circle cx="436.05" cy="61.89" r="1.3" fill="#c8102e"/>
<circle cx="433.89" cy="61.52" r="1.3" fill="#c8102e"/>
<circle cx="439.85" cy="61.71" r="1.3" fill="#c8102e"/>
<circle cx="442.57" cy="57.44" r="1.3" fill="#c8102e"/>
<circle cx="436.16" cy="58.03" r="1.3" fill="#c8102e"/>
<circle cx="432.51" cy="59.75" r="1.3" fill="#c8102e"/>
<circle cx="436.82" cy="61.74" r="1.3" fill="#c8102e"/>
<circle cx="438.05" cy="67.73" r="1.3" fill="#c8102e"/>
<circle cx="439.57" cy="55.10" r="1.3" fill="#c8102e"/>
<circle cx="436.75" cy="58.30" r="1.3" fill="#c8102e"/>
<circle cx="433.66" cy="64.67" r="1.3" fill="#c8102e"/>
<circle cx="434.91" cy="53.92" r="1.3" fill="#c8102e"/>
<circle cx="437.20" cy="59.40" r="1.3" fill="#c8102e"/>
<circle cx="430.83" cy="57.32" r="1.3" fill="#c8102e"/>
<circle cx="433.19" cy="60.28" r="1.3" fill="#c8102e"/>
<circle cx="434.04" cy="60.59" r="1.3" fill="#c8102e"/>
<circle cx="443.75" cy="57.72" r="1.3" fill="#c8102e"/>
<circle cx="432.41" cy="59.53" r="1.3" fill="#c8102e"/>
<circle cx="440.57" cy="58.03" r="1.3" fill="#c8102e"/>
<circle cx="442.03" cy="56.04" r="1.3" fill="#c8102e"/>
<circle cx="431.44" cy="60.18" r="1.3" fill="#c8102e"/>
<circle cx="432.17" cy="58.32" r="1.3" fill="#c8102e"/>
<circle cx="437.81" cy="62.75" r="1.3" fill="#c8102e"/>
<circle cx="436.36" cy="59.45" r="1.3" fill="#c8102e"/>
<circle cx="441.64" cy="61.68" r="1.3" fill="#c8102e"/>
<circle cx="434.86" cy="64.36" r="1.3" fill="#c8102e"/>
<circle cx="432.00" cy="60.90" r="1.3" fill="#c8102e"/>
<circle cx="438.70" cy="60.32" r="1.3" fill="#c8102e"/>
<circle cx="433.41" cy="61.51" r="1.3" fill="#c8102e"/>
<circle cx="433.55" cy="58.39" r="1.3" fill="#c8102e"/>
<circle cx="431.48" cy="64.66" r="1.3" fill="#c8102e"/>
<circle cx="433.51" cy="64.17" r="1.3" fill="#c8102e"/>
<circle cx="437.50" cy="59.50" r="1.3" fill="#c8102e"/>
<circle cx="438.74" cy="61.25" r="1.3" fill="#c8102e"/>
<circle cx="436.44" cy="55.82" r="1.3" fill="#c8102e"/>
<circle cx="436.17" cy="63.31" r="1.3" fill="#c8102e"/>
<circle cx="437.96" cy="63.64" r="1.3" fill="#c8102e"/>
<circle cx="442.27" cy="61.71" r="1.3" fill="#c8102e"/>
<circle cx="444.35" cy="55.36" r="1.3" fill="#c8102e"/>
<circle cx="434.84" cy="52.03" r="1.3" fill="#c8102e"/>
<text x="7.10" y="138.60" font-size="11.2" fill="#000" stroke="#000" stroke-width="0.3" font-weight="bold">E</text>
<line x1="39.90" y1="153.80" x2="39.90" y2="213.50" stroke="#0c0c0c" stroke-width="1.2"/>
<line x1="36.90" y1="213.00" x2="39.90" y2="213.00" stroke="#0c0c0c" stroke-width="1.2"/>
<text x="34.20" y="215.90" font-size="8" fill="#1a1a1a" stroke="#1a1a1a" stroke-width="0.3" text-anchor="end">0</text>
<line x1="36.90" y1="201.16" x2="39.90" y2="201.16" stroke="#0c0c0c" stroke-width="1.2"/>
<text x="34.20" y="204.06" font-size="8" fill="#1a1a1a" stroke="#1a1a1a" stroke-width="0.3" text-anchor="end">100</text>
<line x1="36.90" y1="189.32" x2="39.90" y2="189.32" stroke="#0c0c0c" stroke-width="1.2"/>
<text x="34.20" y="192.22" font-size="8" fill="#1a1a1a" stroke="#1a1a1a" stroke-width="0.3" text-anchor="end">200</text>
<line x1="36.90" y1="177.48" x2="39.90" y2="177.48" stroke="#0c0c0c" stroke-width="1.2"/>
<text x="34.20" y="180.38" font-size="8" fill="#1a1a1a" stroke="#1a1a1a" stroke-width="0.3" text-anchor="end">300</text>
<line x1="36.90" y1="165.64" x2="39.90" y2="165.64" stroke="#0c0c0c" stroke-width="1.2"/>
<text x="34.20" y="168.54" font-size="8" fill="#1a1a1a" stroke="#1a1a1a" stroke-width="0.3" text-anchor="end">400</text>
<line x1="36.90" y1="153.80" x2="39.90" y2="153.80" stroke="#0c0c0c" stroke-width="1.2"/>
<text x="34.20" y="156.70" font-size="8" fill="#1a1a1a" stroke="#1a1a1a" stroke-width="0.3" text-anchor="end">500</text>
<rect x="48.60" y="173.93" width="18.60" height="39.07" fill="#e9a2ac"/>
<rect x="76.20" y="206.49" width="18.40" height="6.51" fill="#a0bbd1"/>
<line x1="39.40" y1="213.00" x2="103.00" y2="213.00" stroke="#0c0c0c" stroke-width="1.2"/>
<line x1="57.90" y1="213.00" x2="57.90" y2="216.00" stroke="#0c0c0c" stroke-width="1.2"/>
<line x1="85.40" y1="213.00" x2="85.40" y2="216.00" stroke="#0c0c0c" stroke-width="1.2"/>
<line x1="57.90" y1="168.96" x2="57.90" y2="178.90" stroke="#c8102e" stroke-width="1.1"/>
<line x1="53.40" y1="168.96" x2="62.40" y2="168.96" stroke="#c8102e" stroke-width="1.1"/>
<line x1="53.40" y1="178.90" x2="62.40" y2="178.90" stroke="#c8102e" stroke-width="1.1"/>
<circle cx="57.90" cy="158.18" r="1.35" fill="#c8102e"/>
<circle cx="57.90" cy="167.06" r="1.35" fill="#c8102e"/>
<circle cx="55.70" cy="177.84" r="1.35" fill="#c8102e"/>
<circle cx="60.00" cy="179.97" r="1.35" fill="#c8102e"/>
<circle cx="57.50" cy="189.44" r="1.35" fill="#c8102e"/>
<line x1="85.40" y1="205.54" x2="85.40" y2="207.44" stroke="#10427f" stroke-width="1.1"/>
<line x1="80.90" y1="205.54" x2="89.90" y2="205.54" stroke="#10427f" stroke-width="1.1"/>
<line x1="80.90" y1="207.44" x2="89.90" y2="207.44" stroke="#10427f" stroke-width="1.1"/>
<rect x="76.95" y="202.91" width="2.90" height="2.90" fill="#10427f"/>
<rect x="79.45" y="203.74" width="2.90" height="2.90" fill="#10427f"/>
<rect x="82.45" y="204.45" width="2.90" height="2.90" fill="#10427f"/>
<rect x="85.45" y="204.21" width="2.90" height="2.90" fill="#10427f"/>
<rect x="88.45" y="204.68" width="2.90" height="2.90" fill="#10427f"/>
<rect x="90.95" y="203.14" width="2.90" height="2.90" fill="#10427f"/>
<text x="85.40" y="196.03" font-size="7" fill="#111" stroke="#111" stroke-width="0.3" text-anchor="middle">*</text>
<text x="14.20" y="181.90" font-size="9" fill="#1a1a1a" stroke="#1a1a1a" stroke-width="0.3" text-anchor="middle" textLength="60" lengthAdjust="spacingAndGlyphs" transform="rotate(-90 14.20 181.90)">Tail bleeding time (s)</text>
<text x="61.30" y="222.00" font-size="7.8" fill="#1a1a1a" stroke="#1a1a1a" stroke-width="0.3" text-anchor="end" transform="rotate(-45 61.30 222.00)">ApoE<tspan font-size="6.24" dy="-2.6">−/−</tspan></text>
<text x="88.80" y="222.00" font-size="7.8" fill="#1a1a1a" stroke="#1a1a1a" stroke-width="0.3" text-anchor="end" transform="rotate(-45 88.80 222.00)">ApoE<tspan font-size="6.24" dy="-2.6">−/−</tspan><tspan dy="2.6"> +HHcy</tspan></text>
<text x="107.40" y="138.40" font-size="11.2" fill="#000" stroke="#000" stroke-width="0.3" font-weight="bold">F</text>
<line x1="137.00" y1="154.60" x2="137.00" y2="214.10" stroke="#0c0c0c" stroke-width="1.2"/>
<line x1="134.00" y1="213.60" x2="137.00" y2="213.60" stroke="#0c0c0c" stroke-width="1.2"/>
<text x="131.30" y="216.50" font-size="8" fill="#1a1a1a" stroke="#1a1a1a" stroke-width="0.3" text-anchor="end">0.0</text>
<line x1="134.00" y1="193.93" x2="137.00" y2="193.93" stroke="#0c0c0c" stroke-width="1.2"/>
<text x="131.30" y="196.83" font-size="8" fill="#1a1a1a" stroke="#1a1a1a" stroke-width="0.3" text-anchor="end">0.5</text>
<line x1="134.00" y1="174.27" x2="137.00" y2="174.27" stroke="#0c0c0c" stroke-width="1.2"/>
<text x="131.30" y="177.17" font-size="8" fill="#1a1a1a" stroke="#1a1a1a" stroke-width="0.3" text-anchor="end">1.0</text>
<line x1="134.00" y1="154.60" x2="137.00" y2="154.60" stroke="#0c0c0c" stroke-width="1.2"/>
<text x="131.30" y="157.50" font-size="8" fill="#1a1a1a" stroke="#1a1a1a" stroke-width="0.3" text-anchor="end">1.5</text>
<rect x="145.00" y="175.41" width="17.30" height="38.19" fill="#e9a2ac"/>
<rect x="170.00" y="205.50" width="17.60" height="8.10" fill="#a0bbd1"/>
<line x1="136.50" y1="213.60" x2="197.50" y2="213.60" stroke="#0c0c0c" stroke-width="1.2"/>
<line x1="153.65" y1="213.60" x2="153.65" y2="216.60" stroke="#0c0c0c" stroke-width="1.2"/>
<line x1="178.80" y1="213.60" x2="178.80" y2="216.60" stroke="#0c0c0c" stroke-width="1.2"/>
<line x1="153.60" y1="171.59" x2="153.60" y2="179.22" stroke="#c8102e" stroke-width="1.1"/>
<line x1="149.10" y1="171.59" x2="158.10" y2="171.59" stroke="#c8102e" stroke-width="1.1"/>
<line x1="149.10" y1="179.22" x2="158.10" y2="179.22" stroke="#c8102e" stroke-width="1.1"/>
<circle cx="153.90" cy="165.89" r="1.35" fill="#c8102e"/>
<circle cx="151.30" cy="170.61" r="1.35" fill="#c8102e"/>
<circle cx="156.10" cy="174.11" r="1.35" fill="#c8102e"/>
<circle cx="155.90" cy="181.70" r="1.35" fill="#c8102e"/>
<circle cx="151.60" cy="186.50" r="1.35" fill="#c8102e"/>
<line x1="178.80" y1="202.90" x2="178.80" y2="208.09" stroke="#10427f" stroke-width="1.1"/>
<line x1="174.30" y1="202.90" x2="183.30" y2="202.90" stroke="#10427f" stroke-width="1.1"/>
<line x1="174.30" y1="208.09" x2="183.30" y2="208.09" stroke="#10427f" stroke-width="1.1"/>
<rect x="174.85" y="195.94" width="2.90" height="2.90" fill="#10427f"/>
<rect x="179.95" y="199.96" width="2.90" height="2.90" fill="#10427f"/>
<rect x="172.85" y="208.06" width="2.90" height="2.90" fill="#10427f"/>
<rect x="176.45" y="208.61" width="2.90" height="2.90" fill="#10427f"/>
<rect x="180.95" y="208.06" width="2.90" height="2.90" fill="#10427f"/>
<text x="178.80" y="189.69" font-size="7" fill="#111" stroke="#111" stroke-width="0.3" text-anchor="middle">*</text>
<text x="114.70" y="182.50" font-size="8.8" fill="#1a1a1a" stroke="#1a1a1a" stroke-width="0.3" text-anchor="middle" textLength="49" lengthAdjust="spacingAndGlyphs" transform="rotate(-90 114.70 182.50)">Relative HGB/Ctrl</text>
<text x="157.00" y="222.60" font-size="7.8" fill="#1a1a1a" stroke="#1a1a1a" stroke-width="0.3" text-anchor="end" transform="rotate(-45 157.00 222.60)">ApoE<tspan font-size="6.24" dy="-2.6">−/−</tspan></text>
<text x="182.20" y="222.60" font-size="7.8" fill="#1a1a1a" stroke="#1a1a1a" stroke-width="0.3" text-anchor="end" transform="rotate(-45 182.20 222.60)">ApoE<tspan font-size="6.24" dy="-2.6">−/−</tspan><tspan dy="2.6"> +HHcy</tspan></text>
<line x1="449.20" y1="155.80" x2="449.20" y2="214.50" stroke="#0c0c0c" stroke-width="1.2"/>
<line x1="446.20" y1="214.00" x2="449.20" y2="214.00" stroke="#0c0c0c" stroke-width="1.2"/>
<text x="443.50" y="216.90" font-size="8" fill="#1a1a1a" stroke="#1a1a1a" stroke-width="0.3" text-anchor="end">0</text>
<line x1="446.20" y1="194.60" x2="449.20" y2="194.60" stroke="#0c0c0c" stroke-width="1.2"/>
<text x="443.50" y="197.50" font-size="8" fill="#1a1a1a" stroke="#1a1a1a" stroke-width="0.3" text-anchor="end">10</text>
<line x1="446.20" y1="175.20" x2="449.20" y2="175.20" stroke="#0c0c0c" stroke-width="1.2"/>
<text x="443.50" y="178.10" font-size="8" fill="#1a1a1a" stroke="#1a1a1a" stroke-width="0.3" text-anchor="end">20</text>
<line x1="446.20" y1="155.80" x2="449.20" y2="155.80" stroke="#0c0c0c" stroke-width="1.2"/>
<text x="443.50" y="158.70" font-size="8" fill="#1a1a1a" stroke="#1a1a1a" stroke-width="0.3" text-anchor="end">30</text>
<rect x="458.00" y="173.07" width="18.30" height="40.93" fill="#e9a2ac"/>
<rect x="485.20" y="195.18" width="18.50" height="18.82" fill="#a0bbd1"/>
<line x1="448.70" y1="214.00" x2="512.00" y2="214.00" stroke="#0c0c0c" stroke-width="1.2"/>
<line x1="467.15" y1="214.00" x2="467.15" y2="217.00" stroke="#0c0c0c" stroke-width="1.2"/>
<line x1="494.45" y1="214.00" x2="494.45" y2="217.00" stroke="#0c0c0c" stroke-width="1.2"/>
<line x1="467.20" y1="170.64" x2="467.20" y2="175.49" stroke="#c8102e" stroke-width="1.1"/>
<line x1="462.70" y1="170.64" x2="471.70" y2="170.64" stroke="#c8102e" stroke-width="1.1"/>
<line x1="462.70" y1="175.49" x2="471.70" y2="175.49" stroke="#c8102e" stroke-width="1.1"/>
<circle cx="467.00" cy="164.92" r="1.35" fill="#c8102e"/>
<circle cx="467.00" cy="170.54" r="1.35" fill="#c8102e"/>
<circle cx="462.40" cy="174.81" r="1.35" fill="#c8102e"/>
<circle cx="471.10" cy="176.56" r="1.35" fill="#c8102e"/>
<circle cx="467.00" cy="178.69" r="1.35" fill="#c8102e"/>
<line x1="494.40" y1="192.47" x2="494.40" y2="197.90" stroke="#10427f" stroke-width="1.1"/>
<line x1="489.90" y1="192.47" x2="498.90" y2="192.47" stroke="#10427f" stroke-width="1.1"/>
<line x1="489.90" y1="197.90" x2="498.90" y2="197.90" stroke="#10427f" stroke-width="1.1"/>
<rect x="493.05" y="183.26" width="2.90" height="2.90" fill="#10427f"/>
<rect x="493.05" y="192.76" width="2.90" height="2.90" fill="#10427f"/>
<rect x="488.25" y="195.09" width="2.90" height="2.90" fill="#10427f"/>
<rect x="493.05" y="198.78" width="2.90" height="2.90" fill="#10427f"/>
<rect x="497.25" y="198.78" width="2.90" height="2.90" fill="#10427f"/>
<text x="494.40" y="180.52" font-size="7" fill="#111" stroke="#111" stroke-width="0.3" text-anchor="middle">*</text>
<text x="429.00" y="183.20" font-size="9" fill="#1a1a1a" stroke="#1a1a1a" stroke-width="0.3" text-anchor="middle" textLength="66.5" lengthAdjust="spacingAndGlyphs" transform="rotate(-90 429.00 183.20)">Time to occlusion (min)</text>
<text x="470.60" y="223.00" font-size="7.8" fill="#1a1a1a" stroke="#1a1a1a" stroke-width="0.3" text-anchor="end" transform="rotate(-45 470.60 223.00)">ApoE<tspan font-size="6.24" dy="-2.6">−/−</tspan></text>
<text x="497.80" y="223.00" font-size="7.8" fill="#1a1a1a" stroke="#1a1a1a" stroke-width="0.3" text-anchor="end" transform="rotate(-45 497.80 223.00)">ApoE<tspan font-size="6.24" dy="-2.6">−/−</tspan><tspan dy="2.6"> +HHcy</tspan></text>
<text x="195.80" y="138.40" font-size="11.2" fill="#000" stroke="#000" stroke-width="0.3" font-weight="bold">G</text>
<defs>
<filter id="bl" x="-20%" y="-20%" width="140%" height="140%"><feGaussianBlur stdDeviation="0.45"/></filter>
<filter id="bl2" x="-50%" y="-50%" width="200%" height="200%"><feGaussianBlur stdDeviation="1.2"/></filter>
<filter id="bl3" x="-50%" y="-50%" width="200%" height="200%"><feGaussianBlur stdDeviation="2.5"/></filter>
<filter id="bl4" x="-50%" y="-50%" width="200%" height="200%"><feGaussianBlur stdDeviation="3.5"/></filter>
<filter id="clump" x="-30%" y="-30%" width="160%" height="160%"><feTurbulence type="fractalNoise" baseFrequency="0.35" numOctaves="2" seed="4" result="t"/><feDisplacementMap in="SourceGraphic" in2="t" scale="3.5" xChannelSelector="R" yChannelSelector="G" result="d"/><feGaussianBlur in="d" stdDeviation="0.45"/></filter>
<clipPath id="c00"><rect x="215.3" y="148.0" width="50.0" height="36.599999999999994"/></clipPath>
<clipPath id="c01"><rect x="266.3" y="148.0" width="50.0" height="36.599999999999994"/></clipPath>
<clipPath id="c02"><rect x="317.2" y="148.0" width="49.400000000000034" height="36.599999999999994"/></clipPath>
<clipPath id="c03"><rect x="367.5" y="148.0" width="49.69999999999999" height="36.599999999999994"/></clipPath>
<clipPath id="c10"><rect x="215.3" y="185.6" width="50.0" height="37.30000000000001"/></clipPath>
<clipPath id="c11"><rect x="266.3" y="185.6" width="50.0" height="37.30000000000001"/></clipPath>
<clipPath id="c12"><rect x="317.2" y="185.6" width="49.400000000000034" height="37.30000000000001"/></clipPath>
<clipPath id="c13"><rect x="367.5" y="185.6" width="49.69999999999999" height="37.30000000000001"/></clipPath>
</defs>
<rect x="214.60" y="147.40" width="203.20" height="76.20" fill="#cfcfcf"/>
<g clip-path="url(#c00)">
<rect x="215.30" y="148.00" width="50.00" height="36.60" fill="#031b03"/>
<polygon points="259.7,148.0 270.3,148.0 270.3,184.6 239.5,184.6" fill="#0a3a0a" opacity="0.5" filter="url(#bl3)"/>
<defs>
<filter id="sp1" filterUnits="userSpaceOnUse" x="215.3" y="148.0" width="50.0" height="36.599999999999994"><feTurbulence type="fractalNoise" baseFrequency="0.7" numOctaves="2" seed="3"/><feColorMatrix type="matrix" values="0 0 0 0 0.2  0 0 0 0 0.95  0 0 0 0 0.2  6 0 0 0 -4.800"/><feGaussianBlur stdDeviation="0.25"/></filter>
<mask id="mk1" maskUnits="userSpaceOnUse" x="210.3" y="143.0" width="60.0" height="46.599999999999994"><polygon points="234.8,148.0 259.7,148.0 239.5,184.6 215.5,184.6" fill="#fff" filter="url(#bl2)"/></mask>
</defs>
<g mask="url(#mk1)" opacity="1"><rect x="215.3" y="148.0" width="50.0" height="36.599999999999994" fill="#fff" filter="url(#sp1)"/></g>
<line x1="234.63" y1="147.00" x2="213.75" y2="186.60" stroke="#e8e8e8" stroke-width="1.2" stroke-dasharray="3.6 2.2"/>
<line x1="259.55" y1="147.00" x2="237.70" y2="186.60" stroke="#e8e8e8" stroke-width="1.2" stroke-dasharray="3.6 2.2"/>
</g>
<text x="263.70" y="183.00" font-size="6.2" fill="#e4e4e4" stroke="#e4e4e4" stroke-width="0.3" text-anchor="end">1 min</text>
<g clip-path="url(#c01)">
<rect x="266.30" y="148.00" width="50.00" height="36.60" fill="#082c08"/>
<polygon points="310.7,148.0 321.3,148.0 321.3,184.6 290.5,184.6" fill="#0c3c0c" opacity="0.6" filter="url(#bl3)"/>
<polygon points="285.8,148.0 310.7,148.0 290.5,184.6 266.5,184.6" fill="#0a340a" opacity="0.5" filter="url(#bl3)"/>
<defs>
<filter id="sp2" filterUnits="userSpaceOnUse" x="266.3" y="148.0" width="50.0" height="36.599999999999994"><feTurbulence type="fractalNoise" baseFrequency="0.45" numOctaves="2" seed="5"/><feColorMatrix type="matrix" values="0 0 0 0 0.2  0 0 0 0 0.95  0 0 0 0 0.2  3 0 0 0 -1.980"/><feGaussianBlur stdDeviation="0.25"/></filter>
<mask id="mk2" maskUnits="userSpaceOnUse" x="261.3" y="143.0" width="60.0" height="46.599999999999994"><polygon points="285.8,148.0 310.7,148.0 290.5,184.6 266.5,184.6" fill="#fff" filter="url(#bl2)"/></mask>
</defs>
<g mask="url(#mk2)" opacity="1"><rect x="266.3" y="148.0" width="50.0" height="36.599999999999994" fill="#fff" filter="url(#sp2)"/></g>
<defs>
<filter id="sp3" filterUnits="userSpaceOnUse" x="266.3" y="148.0" width="50.0" height="36.599999999999994"><feTurbulence type="fractalNoise" baseFrequency="0.6" numOctaves="2" seed="6"/><feColorMatrix type="matrix" values="0 0 0 0 0.2  0 0 0 0 0.95  0 0 0 0 0.2  6 0 0 0 -4.800"/><feGaussianBlur stdDeviation="0.25"/></filter>
<mask id="mk3" maskUnits="userSpaceOnUse" x="261.3" y="143.0" width="60.0" height="46.599999999999994"><polygon points="285.8,148.0 310.7,148.0 290.5,184.6 266.5,184.6" fill="#fff" filter="url(#bl2)"/></mask>
</defs>
<g mask="url(#mk3)" opacity="1"><rect x="266.3" y="148.0" width="50.0" height="36.599999999999994" fill="#fff" filter="url(#sp3)"/></g>
<circle cx="289.8" cy="164.5" r="1.0" fill="#4aff4a" filter="url(#bl)"/>
<line x1="285.63" y1="147.00" x2="264.75" y2="186.60" stroke="#e8e8e8" stroke-width="1.2" stroke-dasharray="3.6 2.2"/>
<line x1="310.55" y1="147.00" x2="288.70" y2="186.60" stroke="#e8e8e8" stroke-width="1.2" stroke-dasharray="3.6 2.2"/>
</g>
<text x="314.70" y="183.00" font-size="6.2" fill="#e4e4e4" stroke="#e4e4e4" stroke-width="0.3" text-anchor="end">5 min</text>
<g clip-path="url(#c02)">
<rect x="317.20" y="148.00" width="49.40" height="36.60" fill="#062406"/>
<polygon points="361.6,148.0 371.6,148.0 371.6,184.6 341.4,184.6" fill="#0d3a0d" opacity="0.8" filter="url(#bl3)"/>
<polygon points="334.2,148.0 349.2,148.0 341.2,184.6 323.2,184.6" fill="#0e4a0e" opacity="0.7" filter="url(#bl3)"/>
<defs>
<filter id="sp4" filterUnits="userSpaceOnUse" x="317.2" y="148.0" width="49.400000000000034" height="36.599999999999994"><feTurbulence type="fractalNoise" baseFrequency="0.38" numOctaves="2" seed="7"/><feColorMatrix type="matrix" values="0 0 0 0 0.2  0 0 0 0 0.95  0 0 0 0 0.2  2.5 0 0 0 -1.350"/><feGaussianBlur stdDeviation="0.25"/></filter>
<mask id="mk4" maskUnits="userSpaceOnUse" x="312.2" y="143.0" width="59.400000000000034" height="46.599999999999994"><polygon points="332.2,148.0 349.2,148.0 341.2,184.6 322.2,184.6" fill="#fff" filter="url(#bl2)"/></mask>
</defs>
<g mask="url(#mk4)" opacity="1"><rect x="317.2" y="148.0" width="49.400000000000034" height="36.599999999999994" fill="#fff" filter="url(#sp4)"/></g>
<defs>
<filter id="sp5" filterUnits="userSpaceOnUse" x="317.2" y="148.0" width="49.400000000000034" height="36.599999999999994"><feTurbulence type="fractalNoise" baseFrequency="0.5" numOctaves="2" seed="9"/><feColorMatrix type="matrix" values="0 0 0 0 0.2  0 0 0 0 0.95  0 0 0 0 0.2  6 0 0 0 -3.840"/><feGaussianBlur stdDeviation="0.25"/></filter>
<mask id="mk5" maskUnits="userSpaceOnUse" x="312.2" y="143.0" width="59.400000000000034" height="46.599999999999994"><polygon points="333.2,148.0 348.2,148.0 340.2,184.6 324.2,184.6" fill="#fff" filter="url(#bl2)"/></mask>
</defs>
<g mask="url(#mk5)" opacity="1"><rect x="317.2" y="148.0" width="49.400000000000034" height="36.599999999999994" fill="#fff" filter="url(#sp5)"/></g>
<line x1="336.53" y1="147.00" x2="315.65" y2="186.60" stroke="#e8e8e8" stroke-width="1.2" stroke-dasharray="3.6 2.2"/>
<line x1="361.45" y1="147.00" x2="339.60" y2="186.60" stroke="#e8e8e8" stroke-width="1.2" stroke-dasharray="3.6 2.2"/>
</g>
<text x="365.00" y="183.00" font-size="6.2" fill="#e4e4e4" stroke="#e4e4e4" stroke-width="0.3" text-anchor="end">10 min</text>
<g clip-path="url(#c03)">
<rect x="367.50" y="148.00" width="49.70" height="36.60" fill="#082c08"/>
<polygon points="411.9,148.0 422.2,148.0 422.2,184.6 391.7,184.6" fill="#0f420f" opacity="0.8" filter="url(#bl3)"/>
<polygon points="383.5,148.0 399.5,148.0 393.5,184.6 372.5,184.6" fill="#105010" opacity="0.8" filter="url(#bl3)"/>
<defs>
<filter id="sp6" filterUnits="userSpaceOnUse" x="367.5" y="148.0" width="49.69999999999999" height="36.599999999999994"><feTurbulence type="fractalNoise" baseFrequency="0.36" numOctaves="2" seed="11"/><feColorMatrix type="matrix" values="0 0 0 0 0.2  0 0 0 0 0.95  0 0 0 0 0.2  2.5 0 0 0 -1.250"/><feGaussianBlur stdDeviation="0.25"/></filter>
<mask id="mk6" maskUnits="userSpaceOnUse" x="362.5" y="143.0" width="59.69999999999999" height="46.599999999999994"><polygon points="382.5,148.0 400.5,148.0 394.5,184.6 371.5,184.6" fill="#fff" filter="url(#bl2)"/></mask>
</defs>
<g mask="url(#mk6)" opacity="1"><rect x="367.5" y="148.0" width="49.69999999999999" height="36.599999999999994" fill="#fff" filter="url(#sp6)"/></g>
<defs>
<filter id="sp7" filterUnits="userSpaceOnUse" x="367.5" y="148.0" width="49.69999999999999" height="36.599999999999994"><feTurbulence type="fractalNoise" baseFrequency="0.5" numOctaves="2" seed="13"/><feColorMatrix type="matrix" values="0 0 0 0 0.2  0 0 0 0 0.95  0 0 0 0 0.2  6 0 0 0 -3.720"/><feGaussianBlur stdDeviation="0.25"/></filter>
<mask id="mk7" maskUnits="userSpaceOnUse" x="362.5" y="143.0" width="59.69999999999999" height="46.599999999999994"><polygon points="383.5,148.0 399.5,148.0 393.5,184.6 372.5,184.6" fill="#fff" filter="url(#bl2)"/></mask>
</defs>
<g mask="url(#mk7)" opacity="1"><rect x="367.5" y="148.0" width="49.69999999999999" height="36.599999999999994" fill="#fff" filter="url(#sp7)"/></g>
<circle cx="391" cy="149" r="1.6" fill="#40f040" opacity="0.85" filter="url(#bl)"/>
<circle cx="394" cy="156" r="1.1" fill="#40f040" opacity="0.85" filter="url(#bl)"/>
<circle cx="393" cy="164" r="1.2" fill="#40f040" opacity="0.85" filter="url(#bl)"/>
<circle cx="395" cy="167" r="1.3" fill="#40f040" opacity="0.85" filter="url(#bl)"/>
<circle cx="389" cy="176" r="1.3" fill="#40f040" opacity="0.85" filter="url(#bl)"/>
<circle cx="380" cy="178" r="1.2" fill="#40f040" opacity="0.85" filter="url(#bl)"/>
<circle cx="385" cy="178" r="1.1" fill="#40f040" opacity="0.85" filter="url(#bl)"/>
<circle cx="390" cy="184" r="1.0" fill="#40f040" opacity="0.85" filter="url(#bl)"/>
<circle cx="388" cy="151" r="1.2" fill="#40f040" opacity="0.85" filter="url(#bl)"/>
<line x1="386.83" y1="147.00" x2="365.95" y2="186.60" stroke="#e8e8e8" stroke-width="1.2" stroke-dasharray="3.6 2.2"/>
<line x1="411.75" y1="147.00" x2="389.90" y2="186.60" stroke="#e8e8e8" stroke-width="1.2" stroke-dasharray="3.6 2.2"/>
</g>
<text x="415.60" y="183.00" font-size="6.2" fill="#e4e4e4" stroke="#e4e4e4" stroke-width="0.3" text-anchor="end">20 min</text>
<g clip-path="url(#c10)">
<rect x="215.30" y="185.60" width="50.00" height="37.30" fill="#051f05"/>
<polygon points="264.4,185.6 270.3,185.6 270.3,222.9 247.8,222.9" fill="#0b380b" opacity="0.6" filter="url(#bl3)"/>
<defs>
<filter id="sp8" filterUnits="userSpaceOnUse" x="215.3" y="185.6" width="50.0" height="37.30000000000001"><feTurbulence type="fractalNoise" baseFrequency="0.7" numOctaves="2" seed="15"/><feColorMatrix type="matrix" values="0 0 0 0 0.2  0 0 0 0 0.95  0 0 0 0 0.2  7 0 0 0 -5.320"/><feGaussianBlur stdDeviation="0.25"/></filter>
<mask id="mk8" maskUnits="userSpaceOnUse" x="210.3" y="180.6" width="60.0" height="47.30000000000001"><polygon points="240.5,185.6 264.4,185.6 247.8,222.9 221.5,222.9" fill="#fff" filter="url(#bl2)"/></mask>
</defs>
<g mask="url(#mk8)" opacity="1"><rect x="215.3" y="185.6" width="50.0" height="37.30000000000001" fill="#fff" filter="url(#sp8)"/></g>
<line x1="241.01" y1="184.60" x2="220.48" y2="224.90" stroke="#e8e8e8" stroke-width="1.2" stroke-dasharray="3.6 2.2"/>
<line x1="264.85" y1="184.60" x2="246.91" y2="224.90" stroke="#e8e8e8" stroke-width="1.2" stroke-dasharray="3.6 2.2"/>
</g>
<text x="263.70" y="221.30" font-size="6.2" fill="#e4e4e4" stroke="#e4e4e4" stroke-width="0.3" text-anchor="end">1 min</text>
<g clip-path="url(#c11)">
<rect x="266.30" y="185.60" width="50.00" height="37.30" fill="#052205"/>
<polygon points="315.4,185.6 321.3,185.6 321.3,222.9 298.8,222.9" fill="#0a340a" opacity="0.6" filter="url(#bl3)"/>
<defs>
<filter id="sp9" filterUnits="userSpaceOnUse" x="266.3" y="185.6" width="50.0" height="37.30000000000001"><feTurbulence type="fractalNoise" baseFrequency="0.5" numOctaves="2" seed="17"/><feColorMatrix type="matrix" values="0 0 0 0 0.2  0 0 0 0 0.95  0 0 0 0 0.2  5 0 0 0 -3.300"/><feGaussianBlur stdDeviation="0.25"/></filter>
<mask id="mk9" maskUnits="userSpaceOnUse" x="261.3" y="180.6" width="60.0" height="47.30000000000001"><polygon points="302.3,185.6 314.3,185.6 302.3,222.9 286.3,222.9" fill="#fff" filter="url(#bl2)"/></mask>
</defs>
<g mask="url(#mk9)" opacity="1"><rect x="266.3" y="185.6" width="50.0" height="37.30000000000001" fill="#fff" filter="url(#sp9)"/></g>
<g filter="url(#clump)"><circle cx="301.0" cy="200.0" r="2.28" fill="#30f030"/><circle cx="299.8" cy="201.1" r="1.56" fill="#30f030"/><circle cx="302.0" cy="192.0" r="1.20" fill="#30f030"/><circle cx="294.0" cy="203.0" r="1.08" fill="#30f030"/><circle cx="296.0" cy="219.6" r="1.44" fill="#30f030"/><circle cx="297.3" cy="218.6" r="1.20" fill="#30f030"/><circle cx="290.0" cy="218.6" r="1.08" fill="#30f030"/><circle cx="303.0" cy="207.6" r="1.08" fill="#30f030"/><circle cx="296.3" cy="212.6" r="0.96" fill="#30f030"/><circle cx="290.3" cy="215.6" r="0.84" fill="#30f030"/><circle cx="304.3" cy="204.6" r="0.84" fill="#30f030"/></g>
<line x1="292.01" y1="184.60" x2="271.48" y2="224.90" stroke="#e8e8e8" stroke-width="1.2" stroke-dasharray="3.6 2.2"/>
<line x1="315.85" y1="184.60" x2="297.91" y2="224.90" stroke="#e8e8e8" stroke-width="1.2" stroke-dasharray="3.6 2.2"/>
</g>
<text x="314.70" y="221.30" font-size="6.2" fill="#e4e4e4" stroke="#e4e4e4" stroke-width="0.3" text-anchor="end">3 min</text>
<g clip-path="url(#c12)">
<rect x="317.20" y="185.60" width="49.40" height="37.30" fill="#031803"/>
<polygon points="366.3,185.6 371.6,185.6 371.6,222.9 349.7,222.9" fill="#0a300a" opacity="0.6" filter="url(#bl3)"/>
<polygon points="349.2,185.6 363.2,185.6 351.2,222.9 339.2,222.9" fill="#146014" opacity="0.5" filter="url(#bl3)"/>
<defs>
<filter id="sp10" filterUnits="userSpaceOnUse" x="317.2" y="185.6" width="49.400000000000034" height="37.30000000000001"><feTurbulence type="fractalNoise" baseFrequency="0.6" numOctaves="2" seed="19"/><feColorMatrix type="matrix" values="0 0 0 0 0.2  0 0 0 0 0.95  0 0 0 0 0.2  7 0 0 0 -4.760"/><feGaussianBlur stdDeviation="0.25"/></filter>
<mask id="mk10" maskUnits="userSpaceOnUse" x="312.2" y="180.6" width="59.400000000000034" height="47.30000000000001"><polygon points="343.2,185.6 365.2,185.6 351.2,222.9 327.2,222.9" fill="#fff" filter="url(#bl2)"/></mask>
</defs>
<g mask="url(#mk10)" opacity="1"><rect x="317.2" y="185.6" width="49.400000000000034" height="37.30000000000001" fill="#fff" filter="url(#sp10)"/></g>
<g filter="url(#clump)"><circle cx="356" cy="195.5" r="3.60" fill="#30f030"/><circle cx="350" cy="199" r="4.20" fill="#30f030"/><circle cx="352" cy="203" r="4.80" fill="#30f030"/><circle cx="349" cy="193.5" r="1.80" fill="#30f030"/><circle cx="346" cy="207" r="3.00" fill="#30f030"/><circle cx="350" cy="209" r="3.60" fill="#30f030"/><circle cx="347" cy="213" r="2.40" fill="#30f030"/><circle cx="340" cy="215" r="1.80" fill="#30f030"/><circle cx="347" cy="220" r="3.00" fill="#30f030"/><circle cx="330" cy="218" r="2.40" fill="#30f030"/><circle cx="361" cy="189" r="2.40" fill="#30f030"/><circle cx="354" cy="197" r="3.00" fill="#30f030"/><circle cx="355" cy="202" r="3.60" fill="#30f030"/><circle cx="352" cy="206" r="3.60" fill="#30f030"/><circle cx="344" cy="210" r="2.16" fill="#30f030"/><circle cx="343" cy="204" r="1.80" fill="#30f030"/><circle cx="338" cy="212" r="1.44" fill="#30f030"/><circle cx="336" cy="216" r="1.20" fill="#30f030"/></g>
<line x1="342.91" y1="184.60" x2="322.38" y2="224.90" stroke="#e8e8e8" stroke-width="1.2" stroke-dasharray="3.6 2.2"/>
<line x1="366.75" y1="184.60" x2="348.81" y2="224.90" stroke="#e8e8e8" stroke-width="1.2" stroke-dasharray="3.6 2.2"/>
</g>
<text x="365.00" y="221.30" font-size="6.2" fill="#e4e4e4" stroke="#e4e4e4" stroke-width="0.3" text-anchor="end">5 min</text>
<g clip-path="url(#c13)">
<rect x="367.50" y="185.60" width="49.70" height="37.30" fill="#031803"/>
<polygon points="416.6,185.6 422.2,185.6 422.2,222.9 400.0,222.9" fill="#0a300a" opacity="0.6" filter="url(#bl3)"/>
<polygon points="391.5,185.6 413.5,185.6 401.5,222.9 381.5,222.9" fill="#146014" opacity="0.5" filter="url(#bl3)"/>
<defs>
<filter id="sp11" filterUnits="userSpaceOnUse" x="367.5" y="185.6" width="49.69999999999999" height="37.30000000000001"><feTurbulence type="fractalNoise" baseFrequency="0.6" numOctaves="2" seed="21"/><feColorMatrix type="matrix" values="0 0 0 0 0.2  0 0 0 0 0.95  0 0 0 0 0.2  7 0 0 0 -4.760"/><feGaussianBlur stdDeviation="0.25"/></filter>
<mask id="mk11" maskUnits="userSpaceOnUse" x="362.5" y="180.6" width="59.69999999999999" height="47.30000000000001"><polygon points="389.5,185.6 415.5,185.6 401.5,222.9 375.5,222.9" fill="#fff" filter="url(#bl2)"/></mask>
</defs>
<g mask="url(#mk11)" opacity="1"><rect x="367.5" y="185.6" width="49.69999999999999" height="37.30000000000001" fill="#fff" filter="url(#sp11)"/></g>
<g filter="url(#clump)"><circle cx="396" cy="200" r="6.00" fill="#30f030"/><circle cx="403" cy="197" r="4.80" fill="#30f030"/><circle cx="404" cy="204" r="4.20" fill="#30f030"/><circle cx="393" cy="206" r="3.60" fill="#30f030"/><circle cx="392" cy="212" r="3.00" fill="#30f030"/><circle cx="398" cy="213" r="3.00" fill="#30f030"/><circle cx="404" cy="189" r="2.40" fill="#30f030"/><circle cx="411" cy="187" r="1.80" fill="#30f030"/><circle cx="400" cy="191" r="1.80" fill="#30f030"/><circle cx="384" cy="218" r="3.60" fill="#30f030"/><circle cx="396" cy="220" r="3.60" fill="#30f030"/><circle cx="389" cy="199" r="1.80" fill="#30f030"/><circle cx="399" cy="205" r="4.20" fill="#30f030"/><circle cx="390" cy="203" r="3.00" fill="#30f030"/><circle cx="386" cy="221" r="3.00" fill="#30f030"/></g>
<circle cx="395" cy="198.5" r="1.8" fill="#40e0d0" filter="url(#bl2)"/>
<line x1="393.21" y1="184.60" x2="372.68" y2="224.90" stroke="#e8e8e8" stroke-width="1.2" stroke-dasharray="3.6 2.2"/>
<line x1="417.05" y1="184.60" x2="399.11" y2="224.90" stroke="#e8e8e8" stroke-width="1.2" stroke-dasharray="3.6 2.2"/>
</g>
<text x="415.60" y="221.30" font-size="6.2" fill="#e4e4e4" stroke="#e4e4e4" stroke-width="0.3" text-anchor="end">11 min</text>
<text x="211.2" y="166.9" font-size="8.2" fill="#1a1a1a" stroke="#1a1a1a" stroke-width="0.15" text-anchor="middle" textLength="22" lengthAdjust="spacingAndGlyphs" transform="rotate(-90 211.2 166.9)">ApoE<tspan font-size="6.4" dy="-2.6">−/−</tspan></text>
<text x="211.2" y="202.4" font-size="8.2" fill="#1a1a1a" stroke="#1a1a1a" stroke-width="0.15" text-anchor="middle" textLength="44" lengthAdjust="spacingAndGlyphs" transform="rotate(-90 211.2 202.4)">ApoE<tspan font-size="6.4" dy="-2.6">−/−</tspan><tspan dy="2.6">+HHcy</tspan></text>
<text x="7.60" y="279.10" font-size="11.2" fill="#000" stroke="#000" stroke-width="0.3" font-weight="bold">H</text>
<text x="5.90" y="295.00" font-size="7.8" fill="#1a1a1a" stroke="#1a1a1a" stroke-width="0.3" textLength="15.7" lengthAdjust="spacingAndGlyphs">ADP</text>
<line x1="49.70" y1="289.00" x2="58.20" y2="289.00" stroke="#c8102e" stroke-width="1.4"/>
<text x="61.30" y="292.00" font-size="7.8" fill="#1a1a1a" stroke="#1a1a1a" stroke-width="0.3" textLength="10.7" lengthAdjust="spacingAndGlyphs">Ctrl</text>
<line x1="49.70" y1="300.20" x2="58.20" y2="300.20" stroke="#10427f" stroke-width="1.4"/>
<text x="61.30" y="303.20" font-size="7.8" fill="#1a1a1a" stroke="#1a1a1a" stroke-width="0.3" textLength="17" lengthAdjust="spacingAndGlyphs">HHcy</text>
<path d="M12.90,305.20 L12.90,308.50" stroke="#10427f" stroke-width="1.5" fill="none" stroke-linejoin="round" stroke-linecap="round"/>
<path d="M13.90,296.50 L13.90,315.20" stroke="#c8102e" stroke-width="1.5" fill="none" stroke-linejoin="round" stroke-linecap="round"/>
<path d="M13.60,313.20 L15.10,313.10 L18.00,317.20 L22.30,320.10 L26.50,323.50 L31.00,327.00 L38.20,328.60 L45.00,329.50 L52.60,331.10 L59.00,333.50 L65.60,335.80 L70.00,337.00 L74.30,337.40" stroke="#c8102e" stroke-width="1.5" fill="none" stroke-linejoin="round" stroke-linecap="round"/>
<path d="M13.90,316.50 L14.80,313.80 L15.50,317.00 L18.70,324.50 L23.80,330.20 L28.00,335.50 L32.40,339.60 L37.00,341.80 L42.50,343.30 L52.60,345.60 L58.00,347.50 L62.70,349.80 L68.00,352.00 L74.30,353.60" stroke="#10427f" stroke-width="1.5" fill="none" stroke-linejoin="round" stroke-linecap="round"/>
<line x1="135.90" y1="300.10" x2="135.90" y2="358.80" stroke="#0c0c0c" stroke-width="1.2"/>
<line x1="132.90" y1="358.30" x2="135.90" y2="358.30" stroke="#0c0c0c" stroke-width="1.2"/>
<text x="131.70" y="361.20" font-size="8.3" fill="#1a1a1a" stroke="#1a1a1a" stroke-width="0.3" text-anchor="end">0</text>
<line x1="132.90" y1="343.75" x2="135.90" y2="343.75" stroke="#0c0c0c" stroke-width="1.2"/>
<text x="131.70" y="346.65" font-size="8.3" fill="#1a1a1a" stroke="#1a1a1a" stroke-width="0.3" text-anchor="end">20</text>
<line x1="132.90" y1="329.20" x2="135.90" y2="329.20" stroke="#0c0c0c" stroke-width="1.2"/>
<text x="131.70" y="332.10" font-size="8.3" fill="#1a1a1a" stroke="#1a1a1a" stroke-width="0.3" text-anchor="end">40</text>
<line x1="132.90" y1="314.65" x2="135.90" y2="314.65" stroke="#0c0c0c" stroke-width="1.2"/>
<text x="131.70" y="317.55" font-size="8.3" fill="#1a1a1a" stroke="#1a1a1a" stroke-width="0.3" text-anchor="end">60</text>
<line x1="132.90" y1="300.10" x2="135.90" y2="300.10" stroke="#0c0c0c" stroke-width="1.2"/>
<text x="131.70" y="303.00" font-size="8.3" fill="#1a1a1a" stroke="#1a1a1a" stroke-width="0.3" text-anchor="end">80</text>
<rect x="145.40" y="333.13" width="16.90" height="25.17" fill="#e9a2ac"/>
<rect x="170.40" y="320.91" width="16.90" height="37.39" fill="#a0bbd1"/>
<line x1="135.40" y1="358.30" x2="195.40" y2="358.30" stroke="#0c0c0c" stroke-width="1.2"/>
<line x1="153.85" y1="358.30" x2="153.85" y2="361.30" stroke="#0c0c0c" stroke-width="1.2"/>
<line x1="178.85" y1="358.30" x2="178.85" y2="361.30" stroke="#0c0c0c" stroke-width="1.2"/>
<line x1="153.85" y1="332.55" x2="153.85" y2="333.71" stroke="#c8102e" stroke-width="1.1"/>
<line x1="149.35" y1="332.55" x2="158.35" y2="332.55" stroke="#c8102e" stroke-width="1.1"/>
<line x1="149.35" y1="333.71" x2="158.35" y2="333.71" stroke="#c8102e" stroke-width="1.1"/>
<circle cx="147.15" cy="333.56" r="1.35" fill="#c8102e"/>
<circle cx="151.65" cy="334.73" r="1.35" fill="#c8102e"/>
<circle cx="155.45" cy="333.56" r="1.35" fill="#c8102e"/>
<circle cx="159.85" cy="331.38" r="1.35" fill="#c8102e"/>
<line x1="178.85" y1="319.45" x2="178.85" y2="322.36" stroke="#10427f" stroke-width="1.1"/>
<line x1="174.35" y1="319.45" x2="183.35" y2="319.45" stroke="#10427f" stroke-width="1.1"/>
<line x1="174.35" y1="322.36" x2="183.35" y2="322.36" stroke="#10427f" stroke-width="1.1"/>
<rect x="177.20" y="316.76" width="2.90" height="2.90" fill="#10427f"/>
<rect x="173.30" y="319.46" width="2.90" height="2.90" fill="#10427f"/>
<rect x="182.00" y="320.04" width="2.90" height="2.90" fill="#10427f"/>
<rect x="177.20" y="322.22" width="2.90" height="2.90" fill="#10427f"/>
<rect x="177.20" y="319.46" width="2.90" height="2.90" fill="#10427f"/>
<text x="178.85" y="314.10" font-size="7" fill="#111" stroke="#111" stroke-width="0.3" text-anchor="middle">*</text>
<text x="153.90" y="370.00" font-size="8.4" fill="#1a1a1a" stroke="#1a1a1a" stroke-width="0.3" text-anchor="middle" textLength="12" lengthAdjust="spacingAndGlyphs">Ctrl</text>
<text x="178.90" y="370.00" font-size="8.4" fill="#1a1a1a" stroke="#1a1a1a" stroke-width="0.3" text-anchor="middle" textLength="18.3" lengthAdjust="spacingAndGlyphs">HHcy</text>
<text x="116.10" y="328.50" font-size="9" fill="#1a1a1a" stroke="#1a1a1a" stroke-width="0.3" text-anchor="middle" textLength="47" lengthAdjust="spacingAndGlyphs" transform="rotate(-90 116.10 328.50)">Aggregation (%)</text>
<text x="201.90" y="279.10" font-size="11.2" fill="#000" stroke="#000" stroke-width="0.3" font-weight="bold" textLength="4.6" lengthAdjust="spacingAndGlyphs">J</text>
<text x="214.30" y="292.70" font-size="7.8" fill="#1a1a1a" stroke="#1a1a1a" stroke-width="0.3" textLength="28.8" lengthAdjust="spacingAndGlyphs">Collagen</text>
<path d="M221.10,294.50 L221.10,310.40" stroke="#10427f" stroke-width="1.5" fill="none" stroke-linejoin="round" stroke-linecap="round"/>
<path d="M219.50,305.80 L222.30,305.60" stroke="#c8102e" stroke-width="1.5" fill="none" stroke-linejoin="round" stroke-linecap="round"/>
<path d="M222.30,294.50 L222.30,308.80" stroke="#c8102e" stroke-width="1.5" fill="none" stroke-linejoin="round" stroke-linecap="round"/>
<path d="M221.10,310.43 L221.78,310.56 L222.45,310.56 L223.12,310.74 L223.80,310.26 L224.36,310.27 L224.91,308.25 L225.47,308.75 L226.03,309.33 L226.59,308.44 L227.14,308.59 L227.70,306.77 L228.07,306.94 L228.44,306.02 L228.81,306.08 L229.19,305.64 L229.56,304.07 L229.93,303.96 L230.30,303.58 L231.05,305.04 L231.80,305.00 L232.02,304.44 L232.23,306.23 L232.45,305.56 L232.67,307.06 L232.88,306.71 L233.10,307.05 L233.23,309.31 L233.36,308.65 L233.48,309.26 L233.61,311.32 L233.74,311.71 L233.87,311.20 L233.99,313.08 L234.12,312.87 L234.25,313.74 L234.38,313.44 L234.51,315.44 L234.63,315.56 L234.76,316.69 L234.89,317.15 L235.02,316.62 L235.14,317.34 L235.27,317.57 L235.40,318.13 L235.55,318.56 L235.70,319.60 L235.84,320.77 L235.99,320.22 L236.14,322.09 L236.29,322.03 L236.43,322.57 L236.58,324.13 L236.73,324.08 L236.88,324.35 L237.02,325.26 L237.17,326.27 L237.32,325.63 L237.47,327.97 L237.61,326.75 L237.76,328.72 L237.91,329.49 L238.06,328.51 L238.20,330.57 L238.35,330.36 L238.50,331.35 L238.68,330.85 L238.86,331.51 L239.04,332.35 L239.22,334.41 L239.40,333.55 L239.59,335.20 L239.77,336.12 L239.95,336.73 L240.13,336.18 L240.31,336.78 L240.49,337.69 L240.67,338.75 L240.85,338.07 L241.03,339.87 L241.21,340.55 L241.40,341.25 L241.58,340.28 L241.76,342.59 L241.94,341.55 L242.12,342.61 L242.30,343.71 L242.65,344.83 L243.01,344.26 L243.36,345.90 L243.72,345.71 L244.07,345.80 L244.42,346.34 L244.78,346.60 L245.13,346.94 L245.48,347.61 L245.84,349.17 L246.19,350.28 L246.55,349.23 L246.90,349.54 L247.41,351.75 L247.93,351.31 L248.44,351.50 L248.95,351.60 L249.46,352.70 L249.97,353.57 L250.49,353.29 L251.00,353.65 L251.58,353.26 L252.16,355.19 L252.73,353.81 L253.31,354.99 L253.89,355.94 L254.47,354.90 L255.04,356.34 L255.62,357.05 L256.20,356.75 L256.78,357.26 L257.36,356.17 L257.94,357.01 L258.52,356.67 L259.10,358.20 L259.68,357.37 L260.26,357.88 L260.84,359.13 L261.42,359.06 L262.00,359.50 L262.59,358.68 L263.18,358.90 L263.77,359.53 L264.36,359.21 L264.95,359.02 L265.55,359.40 L266.14,359.07 L266.73,359.68 L267.32,361.00 L267.91,361.11 L268.50,360.64 L269.12,360.53 L269.75,360.36 L270.38,360.02 L271.00,360.50 L271.62,361.60 L272.25,361.90 L272.88,361.07 L273.50,362.01 L274.12,362.12 L274.75,362.10 L275.38,362.18 L276.00,362.49 L276.60,361.86 L277.20,362.62 L277.80,361.93 L278.40,362.43 L279.00,363.09 L279.60,363.05 L280.20,362.42 L280.80,363.77 L281.40,363.32 L282.00,363.31 L282.60,362.34 L283.20,363.47 L283.80,363.50" stroke="#10427f" stroke-width="1.5" fill="none" stroke-linejoin="round" stroke-linecap="round"/>
<path d="M222.30,309.03 L222.92,309.02 L223.54,308.71 L224.16,308.49 L224.78,308.24 L225.40,308.73 L226.05,308.28 L226.70,308.21 L227.35,307.60 L228.00,307.62 L228.67,306.92 L229.33,307.04 L230.00,306.68 L230.57,306.63 L231.15,306.93 L231.73,307.25 L232.30,307.05 L232.46,307.95 L232.63,308.76 L232.79,308.93 L232.96,309.97 L233.12,310.48 L233.29,311.22 L233.45,311.42 L233.61,311.83 L233.78,313.00 L233.94,313.62 L234.11,313.93 L234.27,314.26 L234.44,314.95 L234.60,315.91 L234.77,316.23 L234.94,317.35 L235.12,317.65 L235.29,317.94 L235.46,318.90 L235.63,319.25 L235.81,320.31 L235.98,320.88 L236.15,321.16 L236.32,321.86 L236.49,322.50 L236.67,323.18 L236.84,323.91 L237.01,323.74 L237.18,324.61 L237.36,325.39 L237.53,325.75 L237.70,326.57 L238.03,326.72 L238.36,327.90 L238.69,328.17 L239.01,328.39 L239.34,329.38 L239.67,329.65 L240.00,330.11 L240.33,330.89 L240.66,331.16 L240.99,331.77 L241.31,332.84 L241.64,333.26 L241.97,333.26 L242.30,334.42 L242.76,334.23 L243.23,334.89 L243.69,335.76 L244.15,335.95 L244.61,336.11 L245.07,336.58 L245.54,337.00 L246.00,337.20 L246.57,338.20 L247.14,337.74 L247.71,338.34 L248.29,338.90 L248.86,338.92 L249.43,339.68 L250.00,339.40 L250.56,340.23 L251.11,340.40 L251.67,340.47 L252.22,340.89 L252.78,340.78 L253.33,341.33 L253.89,341.55 L254.44,341.57 L255.00,341.78 L255.58,342.13 L256.16,342.07 L256.74,341.98 L257.32,342.68 L257.90,342.46 L258.48,342.81 L259.06,343.22 L259.64,342.90 L260.22,342.95 L260.80,343.20 L261.45,343.73 L262.10,343.71 L262.75,343.79 L263.40,344.11 L264.05,344.65 L264.70,344.28 L265.35,344.57 L266.00,345.10 L266.61,345.00 L267.22,344.84 L267.83,345.11 L268.44,345.23 L269.06,345.07 L269.67,345.37 L270.28,345.42 L270.89,345.93 L271.50,345.66 L272.15,346.01 L272.80,346.34 L273.45,346.38 L274.10,346.02 L274.75,346.28 L275.40,346.14 L276.05,346.28 L276.70,346.43 L277.35,346.75 L278.00,346.95 L278.60,346.50 L279.20,346.33 L279.80,346.75 L280.40,346.50 L281.00,346.54 L281.60,347.20 L282.20,346.74 L282.80,347.28 L283.40,347.06 L284.00,347.59 L284.60,347.30" stroke="#c8102e" stroke-width="1.5" fill="none" stroke-linejoin="round" stroke-linecap="round"/>
<line x1="323.50" y1="299.60" x2="323.50" y2="358.80" stroke="#0c0c0c" stroke-width="1.2"/>
<line x1="320.50" y1="358.30" x2="323.50" y2="358.30" stroke="#0c0c0c" stroke-width="1.2"/>
<text x="317.75" y="361.20" font-size="8.3" fill="#1a1a1a" stroke="#1a1a1a" stroke-width="0.3" text-anchor="end">0</text>
<line x1="320.50" y1="343.62" x2="323.50" y2="343.62" stroke="#0c0c0c" stroke-width="1.2"/>
<text x="317.75" y="346.52" font-size="8.3" fill="#1a1a1a" stroke="#1a1a1a" stroke-width="0.3" text-anchor="end">20</text>
<line x1="320.50" y1="328.95" x2="323.50" y2="328.95" stroke="#0c0c0c" stroke-width="1.2"/>
<text x="317.75" y="331.85" font-size="8.3" fill="#1a1a1a" stroke="#1a1a1a" stroke-width="0.3" text-anchor="end">40</text>
<line x1="320.50" y1="314.28" x2="323.50" y2="314.28" stroke="#0c0c0c" stroke-width="1.2"/>
<text x="317.75" y="317.18" font-size="8.3" fill="#1a1a1a" stroke="#1a1a1a" stroke-width="0.3" text-anchor="end">60</text>
<line x1="320.50" y1="299.60" x2="323.50" y2="299.60" stroke="#0c0c0c" stroke-width="1.2"/>
<text x="317.75" y="302.50" font-size="8.3" fill="#1a1a1a" stroke="#1a1a1a" stroke-width="0.3" text-anchor="end">80</text>
<rect x="331.90" y="331.74" width="16.90" height="26.56" fill="#e9a2ac"/>
<rect x="357.30" y="317.87" width="16.90" height="40.43" fill="#a0bbd1"/>
<line x1="323.00" y1="358.30" x2="382.00" y2="358.30" stroke="#0c0c0c" stroke-width="1.2"/>
<line x1="340.35" y1="358.30" x2="340.35" y2="361.30" stroke="#0c0c0c" stroke-width="1.2"/>
<line x1="365.75" y1="358.30" x2="365.75" y2="361.30" stroke="#0c0c0c" stroke-width="1.2"/>
<line x1="340.35" y1="329.83" x2="340.35" y2="333.65" stroke="#c8102e" stroke-width="1.1"/>
<line x1="335.85" y1="329.83" x2="344.85" y2="329.83" stroke="#c8102e" stroke-width="1.1"/>
<line x1="335.85" y1="333.65" x2="344.85" y2="333.65" stroke="#c8102e" stroke-width="1.1"/>
<circle cx="340.35" cy="327.34" r="1.35" fill="#c8102e"/>
<circle cx="335.75" cy="330.49" r="1.35" fill="#c8102e"/>
<circle cx="340.35" cy="334.01" r="1.35" fill="#c8102e"/>
<circle cx="344.85" cy="334.53" r="1.35" fill="#c8102e"/>
<line x1="365.75" y1="315.67" x2="365.75" y2="320.07" stroke="#10427f" stroke-width="1.1"/>
<line x1="361.25" y1="315.67" x2="370.25" y2="315.67" stroke="#10427f" stroke-width="1.1"/>
<line x1="361.25" y1="320.07" x2="370.25" y2="320.07" stroke="#10427f" stroke-width="1.1"/>
<rect x="364.30" y="311.36" width="2.90" height="2.90" fill="#10427f"/>
<rect x="359.90" y="316.93" width="2.90" height="2.90" fill="#10427f"/>
<rect x="368.30" y="317.81" width="2.90" height="2.90" fill="#10427f"/>
<rect x="364.30" y="320.82" width="2.90" height="2.90" fill="#10427f"/>
<rect x="362.70" y="317.37" width="2.90" height="2.90" fill="#10427f"/>
<rect x="365.70" y="317.37" width="2.90" height="2.90" fill="#10427f"/>
<text x="365.75" y="309.30" font-size="7" fill="#111" stroke="#111" stroke-width="0.3" text-anchor="middle">*</text>
<text x="340.30" y="370.00" font-size="8.4" fill="#1a1a1a" stroke="#1a1a1a" stroke-width="0.3" text-anchor="middle" textLength="12" lengthAdjust="spacingAndGlyphs">Ctrl</text>
<text x="365.70" y="370.00" font-size="8.4" fill="#1a1a1a" stroke="#1a1a1a" stroke-width="0.3" text-anchor="middle" textLength="18.3" lengthAdjust="spacingAndGlyphs">HHcy</text>
<text x="302.30" y="328.50" font-size="9" fill="#1a1a1a" stroke="#1a1a1a" stroke-width="0.3" text-anchor="middle" textLength="47" lengthAdjust="spacingAndGlyphs" transform="rotate(-90 302.30 328.50)">Aggregation (%)</text>
<text x="402.80" y="279.50" font-size="11.2" fill="#000" stroke="#000" stroke-width="0.3" font-weight="bold" textLength="5.6" lengthAdjust="spacingAndGlyphs">L</text>
<line x1="434.30" y1="299.90" x2="434.30" y2="358.60" stroke="#0c0c0c" stroke-width="1.2"/>
<line x1="431.30" y1="358.10" x2="434.30" y2="358.10" stroke="#0c0c0c" stroke-width="1.2"/>
<text x="428.00" y="361.00" font-size="8" fill="#1a1a1a" stroke="#1a1a1a" stroke-width="0.3" text-anchor="end">0</text>
<line x1="431.30" y1="343.55" x2="434.30" y2="343.55" stroke="#0c0c0c" stroke-width="1.2"/>
<text x="428.00" y="346.45" font-size="8" fill="#1a1a1a" stroke="#1a1a1a" stroke-width="0.3" text-anchor="end">50</text>
<line x1="431.30" y1="329.00" x2="434.30" y2="329.00" stroke="#0c0c0c" stroke-width="1.2"/>
<text x="428.00" y="331.90" font-size="8" fill="#1a1a1a" stroke="#1a1a1a" stroke-width="0.3" text-anchor="end">100</text>
<line x1="431.30" y1="314.45" x2="434.30" y2="314.45" stroke="#0c0c0c" stroke-width="1.2"/>
<text x="428.00" y="317.35" font-size="8" fill="#1a1a1a" stroke="#1a1a1a" stroke-width="0.3" text-anchor="end">150</text>
<line x1="431.30" y1="299.90" x2="434.30" y2="299.90" stroke="#0c0c0c" stroke-width="1.2"/>
<text x="428.00" y="302.80" font-size="8" fill="#1a1a1a" stroke="#1a1a1a" stroke-width="0.3" text-anchor="end">200</text>
<rect x="439.90" y="353.74" width="12.90" height="4.37" fill="#e9a2ac"/>
<rect x="458.00" y="322.02" width="12.00" height="36.08" fill="#a0bbd1"/>
<rect x="476.00" y="352.86" width="12.00" height="5.24" fill="#b0e1b7"/>
<rect x="493.20" y="307.18" width="12.90" height="50.93" fill="#c1a9c9"/>
<line x1="433.80" y1="358.10" x2="512.00" y2="358.10" stroke="#0c0c0c" stroke-width="1.2"/>
<line x1="446.35" y1="358.10" x2="446.35" y2="361.10" stroke="#0c0c0c" stroke-width="1.2"/>
<line x1="464.00" y1="358.10" x2="464.00" y2="361.10" stroke="#0c0c0c" stroke-width="1.2"/>
<line x1="482.00" y1="358.10" x2="482.00" y2="361.10" stroke="#0c0c0c" stroke-width="1.2"/>
<line x1="499.65" y1="358.10" x2="499.65" y2="361.10" stroke="#0c0c0c" stroke-width="1.2"/>
<line x1="446.35" y1="353.30" x2="446.35" y2="354.17" stroke="#c8102e" stroke-width="1.1"/>
<line x1="442.85" y1="353.30" x2="449.85" y2="353.30" stroke="#c8102e" stroke-width="1.1"/>
<line x1="442.85" y1="354.17" x2="449.85" y2="354.17" stroke="#c8102e" stroke-width="1.1"/>
<circle cx="441.85" cy="352.72" r="1.35" fill="#c8102e"/>
<circle cx="444.35" cy="353.74" r="1.35" fill="#c8102e"/>
<circle cx="446.35" cy="354.32" r="1.35" fill="#c8102e"/>
<circle cx="448.35" cy="353.74" r="1.35" fill="#c8102e"/>
<circle cx="450.85" cy="352.72" r="1.35" fill="#c8102e"/>
<line x1="464.00" y1="321.29" x2="464.00" y2="322.74" stroke="#10427f" stroke-width="1.1"/>
<line x1="460.50" y1="321.29" x2="467.50" y2="321.29" stroke="#10427f" stroke-width="1.1"/>
<line x1="460.50" y1="322.74" x2="467.50" y2="322.74" stroke="#10427f" stroke-width="1.1"/>
<rect x="458.55" y="319.11" width="2.90" height="2.90" fill="#10427f"/>
<rect x="466.55" y="319.69" width="2.90" height="2.90" fill="#10427f"/>
<rect x="461.05" y="320.57" width="2.90" height="2.90" fill="#10427f"/>
<rect x="464.05" y="320.57" width="2.90" height="2.90" fill="#10427f"/>
<rect x="462.55" y="321.73" width="2.90" height="2.90" fill="#10427f"/>
<rect x="462.55" y="319.98" width="2.90" height="2.90" fill="#10427f"/>
<text x="464.00" y="316.09" font-size="7" fill="#111" stroke="#111" stroke-width="0.3" text-anchor="middle">*</text>
<line x1="482.00" y1="352.43" x2="482.00" y2="353.30" stroke="#23a843" stroke-width="1.1"/>
<line x1="478.50" y1="352.43" x2="485.50" y2="352.43" stroke="#23a843" stroke-width="1.1"/>
<line x1="478.50" y1="353.30" x2="485.50" y2="353.30" stroke="#23a843" stroke-width="1.1"/>
<circle cx="477.50" cy="352.57" r="1.35" fill="#23a843"/>
<circle cx="480.00" cy="352.86" r="1.35" fill="#23a843"/>
<circle cx="482.00" cy="353.74" r="1.35" fill="#23a843"/>
<circle cx="484.00" cy="352.86" r="1.35" fill="#23a843"/>
<circle cx="486.50" cy="352.57" r="1.35" fill="#23a843"/>
<line x1="499.65" y1="305.02" x2="499.65" y2="309.33" stroke="#4a1466" stroke-width="1.1"/>
<line x1="497.05" y1="305.02" x2="502.25" y2="305.02" stroke="#4a1466" stroke-width="1.1"/>
<line x1="497.05" y1="309.33" x2="502.25" y2="309.33" stroke="#4a1466" stroke-width="1.1"/>
<path d="M494.05,303.41 L497.25,303.41 L495.65,306.21 Z" fill="#4a1466"/>
<path d="M498.40,304.00 L501.60,304.00 L500.00,306.80 Z" fill="#4a1466"/>
<path d="M501.90,300.80 L505.10,300.80 L503.50,303.60 Z" fill="#4a1466"/>
<path d="M495.55,310.31 L498.75,310.31 L497.15,313.11 Z" fill="#4a1466"/>
<path d="M500.70,309.79 L503.90,309.79 L502.30,312.59 Z" fill="#4a1466"/>
<text x="496.00" y="300.20" font-size="7" fill="#111" stroke="#111" stroke-width="0.3" text-anchor="middle">*</text>
<text x="502.30" y="298.60" font-size="6.5" fill="#111" stroke="#111" stroke-width="0.3" text-anchor="middle">#</text>
<text x="449.75" y="367.10" font-size="7.8" fill="#1a1a1a" stroke="#1a1a1a" stroke-width="0.3" text-anchor="end" transform="rotate(-45 449.75 367.10)">Ctrl</text>
<text x="467.40" y="367.10" font-size="7.8" fill="#1a1a1a" stroke="#1a1a1a" stroke-width="0.3" text-anchor="end" transform="rotate(-45 467.40 367.10)">Collagen</text>
<text x="485.40" y="367.10" font-size="7.8" fill="#1a1a1a" stroke="#1a1a1a" stroke-width="0.3" text-anchor="end" transform="rotate(-45 485.40 367.10)">HHcy</text>
<text x="503.05" y="367.10" font-size="7.8" fill="#1a1a1a" stroke="#1a1a1a" stroke-width="0.3" text-anchor="end" transform="rotate(-45 503.05 367.10)">HHcy+Collagen</text>
<text x="409.60" y="328.30" font-size="9" fill="#1a1a1a" stroke="#1a1a1a" stroke-width="0.3" text-anchor="middle" textLength="41.4" lengthAdjust="spacingAndGlyphs" transform="rotate(-90 409.60 328.30)">P-Selectin MFI</text>
<text x="7.60" y="415.60" font-size="11.2" fill="#000" stroke="#000" stroke-width="0.3" font-weight="bold">I</text>
<text x="5.90" y="427.80" font-size="7.8" fill="#1a1a1a" stroke="#1a1a1a" stroke-width="0.3" textLength="27.9" lengthAdjust="spacingAndGlyphs">U46619</text>
<path d="M15.50,441.06 L15.80,442.82 L16.10,442.07 L16.40,443.58 L16.70,443.17 L17.00,444.01 L17.30,445.80 L17.41,445.14 L17.52,446.43 L17.63,446.75 L17.74,447.34 L17.85,448.01 L17.96,448.13 L18.07,449.75 L18.19,449.17 L18.30,450.01 L18.41,450.27 L18.52,451.27 L18.63,452.10 L18.74,453.49 L18.85,453.26 L18.96,453.44 L19.07,454.27 L19.18,456.05 L19.29,455.17 L19.40,456.66 L19.51,456.87 L19.62,457.93 L19.74,458.02 L19.85,459.19 L19.96,459.48 L20.07,460.33 L20.18,461.34 L20.29,461.43 L20.40,461.33 L20.53,461.81 L20.67,463.82 L20.80,463.69 L20.94,463.83 L21.07,465.64 L21.21,465.65 L21.34,466.50 L21.48,467.34 L21.61,467.00 L21.75,467.71 L21.88,469.15 L22.02,468.57 L22.15,470.18 L22.29,469.72 L22.42,471.27 L22.56,471.89 L22.69,472.89 L22.83,473.33 L22.96,473.39 L23.10,473.50 L23.23,474.03 L23.37,475.24 L23.50,475.82 L23.73,475.68 L23.95,477.57 L24.18,477.50 L24.41,478.38 L24.64,478.17 L24.86,478.77 L25.09,478.96 L25.32,480.06 L25.55,480.50 L25.77,481.31 L26.00,481.80 L26.26,483.10 L26.52,483.75 L26.79,483.17 L27.05,484.08 L27.31,484.28 L27.58,485.64 L27.84,486.70 L28.10,486.02 L28.51,487.40 L28.93,487.12 L29.34,487.14 L29.76,488.81 L30.17,488.60 L30.59,488.80 L31.00,489.70 L31.53,489.72 L32.07,490.36 L32.60,490.76 L33.13,491.07 L33.67,491.69 L34.20,491.56 L34.81,491.55 L35.43,491.84 L36.04,492.17 L36.66,493.13 L37.27,493.18 L37.89,494.19 L38.50,494.01 L39.12,494.56 L39.75,495.22 L40.38,493.98 L41.00,494.13 L41.62,494.55 L42.25,495.17 L42.88,495.69 L43.50,496.19 L44.15,495.65 L44.80,496.72 L45.45,495.27 L46.10,496.70 L46.75,495.79 L47.40,496.94 L48.05,495.68 L48.70,497.26 L49.35,497.03 L50.00,497.48 L50.64,496.89 L51.29,496.32 L51.93,497.65 L52.58,496.87 L53.22,496.37 L53.87,497.27 L54.51,497.16 L55.16,497.19 L55.80,496.75 L56.42,496.79 L57.04,497.61 L57.66,497.49 L58.28,497.06 L58.90,497.65 L59.52,498.20 L60.14,498.27 L60.76,497.97 L61.38,497.94 L62.00,497.98 L62.64,497.85 L63.29,497.89 L63.93,498.37 L64.57,497.92 L65.21,498.99 L65.86,499.05 L66.50,498.98 L67.11,498.13 L67.72,498.76 L68.33,498.96 L68.94,498.50 L69.56,499.99 L70.17,499.74 L70.78,499.43 L71.39,499.84 L72.00,499.12 L72.61,499.25 L73.22,499.80 L73.83,500.23 L74.44,500.16 L75.05,499.21 L75.66,500.26 L76.27,500.81 L76.88,500.63 L77.49,501.00 L78.10,500.40" stroke="#10427f" stroke-width="1.5" fill="none" stroke-linejoin="round" stroke-linecap="round"/>
<path d="M15.00,431.90 L15.00,441.20" stroke="#c8102e" stroke-width="1.5" fill="none" stroke-linejoin="round" stroke-linecap="round"/>
<path d="M13.50,441.20 L16.10,441.20" stroke="#c8102e" stroke-width="1.5" fill="none" stroke-linejoin="round" stroke-linecap="round"/>
<path d="M15.50,441.46 L15.86,441.89 L16.22,442.15 L16.58,443.56 L16.94,443.07 L17.30,444.20 L17.46,445.29 L17.63,444.91 L17.79,446.09 L17.96,446.77 L18.12,446.68 L18.29,447.70 L18.45,448.69 L18.61,449.00 L18.78,449.93 L18.94,449.86 L19.11,450.56 L19.27,451.02 L19.44,452.10 L19.60,453.21 L19.74,453.40 L19.87,454.21 L20.01,454.33 L20.14,455.35 L20.28,455.16 L20.41,455.98 L20.55,457.03 L20.68,457.68 L20.82,457.90 L20.95,458.09 L21.09,458.89 L21.22,459.41 L21.36,460.08 L21.49,461.31 L21.63,461.16 L21.76,462.58 L21.90,463.16 L22.18,462.72 L22.46,463.65 L22.74,464.34 L23.01,464.33 L23.29,465.36 L23.57,466.49 L23.85,466.08 L24.13,467.22 L24.41,467.20 L24.69,468.29 L24.96,469.22 L25.24,468.94 L25.52,469.26 L25.80,469.90 L26.25,470.96 L26.70,470.85 L27.15,471.45 L27.60,472.46 L28.05,473.49 L28.50,473.40 L29.07,473.76 L29.63,474.43 L30.20,474.16 L30.77,475.13 L31.33,475.02 L31.90,475.93 L32.50,476.68 L33.10,475.93 L33.70,476.87 L34.30,477.26 L34.90,477.05 L35.50,477.52 L36.09,478.59 L36.67,478.80 L37.26,477.95 L37.84,478.85 L38.43,479.34 L39.01,478.68 L39.60,479.33 L40.20,478.73 L40.80,479.19 L41.40,479.64 L42.00,479.62 L42.60,479.92 L43.20,479.17 L43.80,479.56 L44.40,480.26 L45.00,480.00 L45.62,479.89 L46.24,479.88 L46.86,480.63 L47.48,480.19 L48.10,479.57 L48.72,480.56 L49.34,480.04 L49.96,480.22 L50.58,480.01 L51.20,480.33 L51.82,480.25 L52.44,480.03 L53.05,480.75 L53.67,480.18 L54.29,481.06 L54.91,480.21 L55.53,481.18 L56.15,481.28 L56.76,480.97 L57.38,481.29 L58.00,480.80 L58.61,481.44 L59.21,481.12 L59.82,480.95 L60.43,481.89 L61.04,481.27 L61.64,481.29 L62.25,481.93 L62.86,481.40 L63.46,481.82 L64.07,481.28 L64.68,482.14 L65.29,481.50 L65.89,481.30 L66.50,482.47 L67.11,481.55 L67.72,482.52 L68.33,482.62 L68.94,482.21 L69.56,481.54 L70.17,481.64 L70.78,481.86 L71.39,482.12 L72.00,482.43 L72.66,482.91 L73.33,482.23 L73.99,482.02 L74.65,482.57 L75.31,482.11 L75.97,482.10 L76.64,482.72 L77.30,482.70" stroke="#c8102e" stroke-width="1.5" fill="none" stroke-linejoin="round" stroke-linecap="round"/>
<line x1="136.50" y1="438.60" x2="136.50" y2="497.70" stroke="#0c0c0c" stroke-width="1.2"/>
<line x1="133.50" y1="497.20" x2="136.50" y2="497.20" stroke="#0c0c0c" stroke-width="1.2"/>
<text x="132.10" y="500.10" font-size="8.3" fill="#1a1a1a" stroke="#1a1a1a" stroke-width="0.3" text-anchor="end">0</text>
<line x1="133.50" y1="482.55" x2="136.50" y2="482.55" stroke="#0c0c0c" stroke-width="1.2"/>
<text x="132.10" y="485.45" font-size="8.3" fill="#1a1a1a" stroke="#1a1a1a" stroke-width="0.3" text-anchor="end">20</text>
<line x1="133.50" y1="467.90" x2="136.50" y2="467.90" stroke="#0c0c0c" stroke-width="1.2"/>
<text x="132.10" y="470.80" font-size="8.3" fill="#1a1a1a" stroke="#1a1a1a" stroke-width="0.3" text-anchor="end">40</text>
<line x1="133.50" y1="453.25" x2="136.50" y2="453.25" stroke="#0c0c0c" stroke-width="1.2"/>
<text x="132.10" y="456.15" font-size="8.3" fill="#1a1a1a" stroke="#1a1a1a" stroke-width="0.3" text-anchor="end">60</text>
<line x1="133.50" y1="438.60" x2="136.50" y2="438.60" stroke="#0c0c0c" stroke-width="1.2"/>
<text x="132.10" y="441.50" font-size="8.3" fill="#1a1a1a" stroke="#1a1a1a" stroke-width="0.3" text-anchor="end">80</text>
<rect x="145.40" y="465.41" width="16.90" height="31.79" fill="#e9a2ac"/>
<rect x="170.40" y="454.93" width="16.90" height="42.27" fill="#a0bbd1"/>
<line x1="136.00" y1="497.20" x2="195.40" y2="497.20" stroke="#0c0c0c" stroke-width="1.2"/>
<line x1="153.85" y1="497.20" x2="153.85" y2="500.20" stroke="#0c0c0c" stroke-width="1.2"/>
<line x1="178.85" y1="497.20" x2="178.85" y2="500.20" stroke="#0c0c0c" stroke-width="1.2"/>
<line x1="153.85" y1="462.55" x2="153.85" y2="468.27" stroke="#c8102e" stroke-width="1.1"/>
<line x1="149.35" y1="462.55" x2="158.35" y2="462.55" stroke="#c8102e" stroke-width="1.1"/>
<line x1="149.35" y1="468.27" x2="158.35" y2="468.27" stroke="#c8102e" stroke-width="1.1"/>
<circle cx="153.85" cy="459.33" r="1.35" fill="#c8102e"/>
<circle cx="153.85" cy="464.82" r="1.35" fill="#c8102e"/>
<circle cx="156.55" cy="467.02" r="1.35" fill="#c8102e"/>
<circle cx="151.65" cy="471.78" r="1.35" fill="#c8102e"/>
<line x1="178.85" y1="453.47" x2="178.85" y2="456.40" stroke="#10427f" stroke-width="1.1"/>
<line x1="174.35" y1="453.47" x2="183.35" y2="453.47" stroke="#10427f" stroke-width="1.1"/>
<line x1="174.35" y1="456.40" x2="183.35" y2="456.40" stroke="#10427f" stroke-width="1.1"/>
<rect x="173.30" y="451.73" width="2.90" height="2.90" fill="#10427f"/>
<rect x="177.20" y="450.12" width="2.90" height="2.90" fill="#10427f"/>
<rect x="182.10" y="454.88" width="2.90" height="2.90" fill="#10427f"/>
<rect x="177.20" y="456.12" width="2.90" height="2.90" fill="#10427f"/>
<rect x="178.80" y="453.41" width="2.90" height="2.90" fill="#10427f"/>
<text x="178.85" y="447.48" font-size="7" fill="#111" stroke="#111" stroke-width="0.3" text-anchor="middle">*</text>
<text x="153.90" y="509.20" font-size="8.4" fill="#1a1a1a" stroke="#1a1a1a" stroke-width="0.3" text-anchor="middle" textLength="12" lengthAdjust="spacingAndGlyphs">Ctrl</text>
<text x="178.90" y="509.20" font-size="8.4" fill="#1a1a1a" stroke="#1a1a1a" stroke-width="0.3" text-anchor="middle" textLength="18.3" lengthAdjust="spacingAndGlyphs">HHcy</text>
<text x="116.10" y="468.00" font-size="9" fill="#1a1a1a" stroke="#1a1a1a" stroke-width="0.3" text-anchor="middle" textLength="46.5" lengthAdjust="spacingAndGlyphs" transform="rotate(-90 116.10 468.00)">Aggregation (%)</text>
<text x="202.60" y="416.20" font-size="11.2" fill="#000" stroke="#000" stroke-width="0.3" font-weight="bold">K</text>
<text x="214.40" y="426.70" font-size="7.8" fill="#1a1a1a" stroke="#1a1a1a" stroke-width="0.3" textLength="30" lengthAdjust="spacingAndGlyphs">Thrombin</text>
<path d="M223.80,431.40 L223.80,445.50" stroke="#10427f" stroke-width="1.5" fill="none" stroke-linejoin="round" stroke-linecap="round"/>
<path d="M224.50,441.61 L225.18,441.42 L225.85,441.67 L226.52,441.13 L227.20,442.07 L227.35,442.71 L227.51,443.07 L227.66,442.95 L227.81,444.11 L227.97,444.44 L228.12,444.94 L228.27,446.62 L228.43,447.30 L228.58,446.50 L228.73,448.34 L228.89,448.57 L229.04,448.86 L229.19,449.34 L229.35,450.54 L229.50,450.84 L229.61,451.79 L229.73,452.36 L229.84,452.17 L229.95,453.73 L230.07,454.66 L230.18,455.24 L230.29,455.32 L230.41,455.07 L230.52,455.62 L230.63,456.42 L230.75,458.23 L230.86,457.88 L230.97,458.59 L231.09,459.99 L231.20,459.72 L231.29,460.68 L231.39,461.12 L231.48,461.17 L231.57,462.55 L231.67,463.55 L231.76,463.12 L231.86,463.83 L231.95,464.72 L232.04,464.76 L232.14,466.06 L232.23,467.15 L232.32,467.51 L232.42,467.93 L232.51,469.02 L232.61,468.57 L232.70,469.80 L232.85,470.14 L233.00,471.11 L233.15,471.01 L233.30,472.63 L233.45,472.24 L233.60,472.98 L233.75,474.57 L233.90,475.41 L234.05,475.27 L234.20,475.87 L234.40,476.19 L234.60,476.81 L234.80,477.90 L235.00,477.82 L235.20,478.30 L235.40,479.38 L235.60,479.52 L235.80,480.82 L236.25,481.58 L236.70,482.02 L237.15,482.07 L237.60,482.37 L238.05,483.00 L238.50,482.86 L238.97,484.34 L239.43,484.18 L239.90,484.58 L240.37,484.64 L240.83,485.61 L241.30,486.22 L241.83,486.24 L242.36,487.25 L242.89,487.26 L243.41,486.91 L243.94,487.64 L244.47,488.52 L245.00,488.23 L245.56,488.61 L246.12,488.06 L246.68,488.96 L247.24,489.18 L247.80,489.35 L248.36,489.64 L248.92,490.15 L249.48,490.34 L250.04,490.52 L250.60,490.30 L251.20,490.85 L251.80,491.77 L252.40,491.07 L253.00,490.64 L253.60,490.72 L254.20,491.65 L254.80,491.06 L255.40,491.26 L256.00,491.41 L256.65,492.03 L257.29,492.94 L257.94,492.28 L258.58,492.34 L259.23,492.40 L259.87,492.60 L260.52,492.62 L261.16,493.14 L261.81,493.50 L262.45,493.30 L263.10,492.98 L263.73,493.41 L264.35,493.88 L264.98,492.83 L265.61,493.03 L266.24,493.69 L266.86,493.87 L267.49,493.89 L268.12,493.89 L268.75,494.33 L269.37,493.89 L270.00,494.46 L270.62,494.77 L271.23,494.06 L271.85,494.77 L272.46,494.64 L273.08,494.97 L273.69,493.78 L274.31,495.16 L274.92,495.02 L275.54,495.39 L276.15,495.49 L276.77,494.52 L277.38,495.18 L278.00,495.00" stroke="#10427f" stroke-width="1.5" fill="none" stroke-linejoin="round" stroke-linecap="round"/>
<path d="M225.30,432.20 L225.30,441.60" stroke="#c8102e" stroke-width="1.5" fill="none" stroke-linejoin="round" stroke-linecap="round"/>
<path d="M220.90,441.30 L228.80,441.30" stroke="#c8102e" stroke-width="1.5" fill="none" stroke-linejoin="round" stroke-linecap="round"/>
<path d="M228.80,441.27 L229.26,441.86 L229.72,442.59 L230.18,442.84 L230.64,443.38 L231.10,443.95 L231.27,444.37 L231.44,445.22 L231.61,445.95 L231.79,446.70 L231.96,446.94 L232.13,447.72 L232.30,448.25 L232.42,449.31 L232.54,449.86 L232.67,450.09 L232.79,451.28 L232.91,451.89 L233.03,452.33 L233.16,452.92 L233.28,453.27 L233.40,453.81 L233.56,454.76 L233.72,455.12 L233.88,455.83 L234.04,456.51 L234.20,457.02 L234.36,457.92 L234.52,458.54 L234.68,459.43 L234.84,459.87 L235.00,460.58 L235.18,461.09 L235.36,461.78 L235.53,462.24 L235.71,462.72 L235.89,463.74 L236.07,464.33 L236.24,464.83 L236.42,465.34 L236.60,465.69 L236.92,466.15 L237.23,466.71 L237.55,467.09 L237.87,468.03 L238.18,468.32 L238.50,469.11 L238.97,469.23 L239.43,469.97 L239.90,470.31 L240.37,470.20 L240.83,470.73 L241.30,471.55 L241.83,471.61 L242.36,472.25 L242.89,472.22 L243.41,472.36 L243.94,473.02 L244.47,473.44 L245.00,473.46 L245.56,473.58 L246.12,473.96 L246.68,474.57 L247.24,474.67 L247.80,474.52 L248.36,474.83 L248.92,474.97 L249.48,475.18 L250.04,475.85 L250.60,475.71 L251.20,476.09 L251.80,476.18 L252.40,476.18 L253.00,476.66 L253.60,476.46 L254.20,476.92 L254.80,476.76 L255.40,477.10 L256.00,477.13 L256.65,477.25 L257.29,477.76 L257.94,477.75 L258.58,477.55 L259.23,477.99 L259.87,477.67 L260.52,477.87 L261.16,478.24 L261.81,478.20 L262.45,477.97 L263.10,478.59 L263.73,478.20 L264.35,478.30 L264.98,478.68 L265.61,478.49 L266.24,478.54 L266.86,478.48 L267.49,478.56 L268.12,478.93 L268.75,478.80 L269.37,479.09 L270.00,479.02 L270.62,479.13 L271.23,479.48 L271.85,479.25 L272.46,479.36 L273.08,479.59 L273.69,479.23 L274.31,479.27 L274.92,479.78 L275.54,479.78 L276.15,479.49 L276.77,479.51 L277.38,479.89 L278.00,479.80" stroke="#c8102e" stroke-width="1.5" fill="none" stroke-linejoin="round" stroke-linecap="round"/>
<line x1="225.30" y1="480.60" x2="225.30" y2="487.70" stroke="#111" stroke-width="1.1"/>
<line x1="229.50" y1="491.30" x2="235.00" y2="491.30" stroke="#111" stroke-width="1.1"/>
<text x="222.20" y="483.10" font-size="7.6" fill="#1a1a1a" stroke="#1a1a1a" stroke-width="0.3" text-anchor="middle" textLength="14.8" lengthAdjust="spacingAndGlyphs" transform="rotate(-90 222.20 483.10)">10%</text>
<text x="225.30" y="499.90" font-size="7.6" fill="#1a1a1a" stroke="#1a1a1a" stroke-width="0.3" textLength="17.2" lengthAdjust="spacingAndGlyphs">1 min</text>
<line x1="323.50" y1="438.10" x2="323.50" y2="497.70" stroke="#0c0c0c" stroke-width="1.2"/>
<line x1="320.50" y1="497.20" x2="323.50" y2="497.20" stroke="#0c0c0c" stroke-width="1.2"/>
<text x="318.40" y="500.10" font-size="8.3" fill="#1a1a1a" stroke="#1a1a1a" stroke-width="0.3" text-anchor="end">0</text>
<line x1="320.50" y1="482.43" x2="323.50" y2="482.43" stroke="#0c0c0c" stroke-width="1.2"/>
<text x="318.40" y="485.32" font-size="8.3" fill="#1a1a1a" stroke="#1a1a1a" stroke-width="0.3" text-anchor="end">20</text>
<line x1="320.50" y1="467.65" x2="323.50" y2="467.65" stroke="#0c0c0c" stroke-width="1.2"/>
<text x="318.40" y="470.55" font-size="8.3" fill="#1a1a1a" stroke="#1a1a1a" stroke-width="0.3" text-anchor="end">40</text>
<line x1="320.50" y1="452.88" x2="323.50" y2="452.88" stroke="#0c0c0c" stroke-width="1.2"/>
<text x="318.40" y="455.77" font-size="8.3" fill="#1a1a1a" stroke="#1a1a1a" stroke-width="0.3" text-anchor="end">60</text>
<line x1="320.50" y1="438.10" x2="323.50" y2="438.10" stroke="#0c0c0c" stroke-width="1.2"/>
<text x="318.40" y="441.00" font-size="8.3" fill="#1a1a1a" stroke="#1a1a1a" stroke-width="0.3" text-anchor="end">80</text>
<rect x="331.90" y="462.92" width="16.90" height="34.28" fill="#e9a2ac"/>
<rect x="357.30" y="448.59" width="16.90" height="48.61" fill="#a0bbd1"/>
<line x1="323.00" y1="497.20" x2="382.00" y2="497.20" stroke="#0c0c0c" stroke-width="1.2"/>
<line x1="340.35" y1="497.20" x2="340.35" y2="500.20" stroke="#0c0c0c" stroke-width="1.2"/>
<line x1="365.75" y1="497.20" x2="365.75" y2="500.20" stroke="#0c0c0c" stroke-width="1.2"/>
<line x1="340.35" y1="460.71" x2="340.35" y2="465.14" stroke="#c8102e" stroke-width="1.1"/>
<line x1="335.85" y1="460.71" x2="344.85" y2="460.71" stroke="#c8102e" stroke-width="1.1"/>
<line x1="335.85" y1="465.14" x2="344.85" y2="465.14" stroke="#c8102e" stroke-width="1.1"/>
<circle cx="338.15" cy="457.38" r="1.35" fill="#c8102e"/>
<circle cx="343.25" cy="460.41" r="1.35" fill="#c8102e"/>
<circle cx="335.75" cy="463.73" r="1.35" fill="#c8102e"/>
<circle cx="340.15" cy="467.58" r="1.35" fill="#c8102e"/>
<circle cx="344.55" cy="467.58" r="1.35" fill="#c8102e"/>
<line x1="365.75" y1="447.11" x2="365.75" y2="450.07" stroke="#10427f" stroke-width="1.1"/>
<line x1="361.25" y1="447.11" x2="370.25" y2="447.11" stroke="#10427f" stroke-width="1.1"/>
<line x1="361.25" y1="450.07" x2="370.25" y2="450.07" stroke="#10427f" stroke-width="1.1"/>
<rect x="364.10" y="443.89" width="2.90" height="2.90" fill="#10427f"/>
<rect x="358.00" y="447.95" width="2.90" height="2.90" fill="#10427f"/>
<rect x="370.10" y="447.95" width="2.90" height="2.90" fill="#10427f"/>
<rect x="361.60" y="451.57" width="2.90" height="2.90" fill="#10427f"/>
<rect x="366.10" y="451.57" width="2.90" height="2.90" fill="#10427f"/>
<text x="365.75" y="444.00" font-size="7" fill="#111" stroke="#111" stroke-width="0.3" text-anchor="middle">*</text>
<text x="340.30" y="509.20" font-size="8.4" fill="#1a1a1a" stroke="#1a1a1a" stroke-width="0.3" text-anchor="middle" textLength="12" lengthAdjust="spacingAndGlyphs">Ctrl</text>
<text x="365.70" y="509.20" font-size="8.4" fill="#1a1a1a" stroke="#1a1a1a" stroke-width="0.3" text-anchor="middle" textLength="18.3" lengthAdjust="spacingAndGlyphs">HHcy</text>
<text x="302.30" y="468.00" font-size="9" fill="#1a1a1a" stroke="#1a1a1a" stroke-width="0.3" text-anchor="middle" textLength="46.5" lengthAdjust="spacingAndGlyphs" transform="rotate(-90 302.30 468.00)">Aggregation (%)</text>
<text x="402.60" y="416.20" font-size="11.2" fill="#000" stroke="#000" stroke-width="0.3" font-weight="bold">M</text>
<line x1="434.00" y1="438.70" x2="434.00" y2="498.10" stroke="#0c0c0c" stroke-width="1.2"/>
<line x1="431.00" y1="497.60" x2="434.00" y2="497.60" stroke="#0c0c0c" stroke-width="1.2"/>
<text x="428.00" y="500.50" font-size="8" fill="#1a1a1a" stroke="#1a1a1a" stroke-width="0.3" text-anchor="end">0</text>
<line x1="431.00" y1="485.82" x2="434.00" y2="485.82" stroke="#0c0c0c" stroke-width="1.2"/>
<text x="428.00" y="488.72" font-size="8" fill="#1a1a1a" stroke="#1a1a1a" stroke-width="0.3" text-anchor="end">50</text>
<line x1="431.00" y1="474.04" x2="434.00" y2="474.04" stroke="#0c0c0c" stroke-width="1.2"/>
<text x="428.00" y="476.94" font-size="8" fill="#1a1a1a" stroke="#1a1a1a" stroke-width="0.3" text-anchor="end">100</text>
<line x1="431.00" y1="462.26" x2="434.00" y2="462.26" stroke="#0c0c0c" stroke-width="1.2"/>
<text x="428.00" y="465.16" font-size="8" fill="#1a1a1a" stroke="#1a1a1a" stroke-width="0.3" text-anchor="end">150</text>
<line x1="431.00" y1="450.48" x2="434.00" y2="450.48" stroke="#0c0c0c" stroke-width="1.2"/>
<text x="428.00" y="453.38" font-size="8" fill="#1a1a1a" stroke="#1a1a1a" stroke-width="0.3" text-anchor="end">200</text>
<line x1="431.00" y1="438.70" x2="434.00" y2="438.70" stroke="#0c0c0c" stroke-width="1.2"/>
<text x="428.00" y="441.60" font-size="8" fill="#1a1a1a" stroke="#1a1a1a" stroke-width="0.3" text-anchor="end">250</text>
<rect x="440.20" y="490.70" width="12.20" height="6.90" fill="#e9a2ac"/>
<rect x="458.00" y="457.10" width="12.20" height="40.50" fill="#a0bbd1"/>
<rect x="476.20" y="490.91" width="12.00" height="6.69" fill="#b0e1b7"/>
<rect x="494.30" y="444.35" width="11.80" height="53.25" fill="#c1a9c9"/>
<line x1="433.50" y1="497.60" x2="511.80" y2="497.60" stroke="#0c0c0c" stroke-width="1.2"/>
<line x1="446.30" y1="497.60" x2="446.30" y2="500.60" stroke="#0c0c0c" stroke-width="1.2"/>
<line x1="464.10" y1="497.60" x2="464.10" y2="500.60" stroke="#0c0c0c" stroke-width="1.2"/>
<line x1="482.20" y1="497.60" x2="482.20" y2="500.60" stroke="#0c0c0c" stroke-width="1.2"/>
<line x1="500.20" y1="497.60" x2="500.20" y2="500.60" stroke="#0c0c0c" stroke-width="1.2"/>
<line x1="446.00" y1="490.41" x2="446.00" y2="490.98" stroke="#c8102e" stroke-width="1.1"/>
<line x1="442.50" y1="490.41" x2="449.50" y2="490.41" stroke="#c8102e" stroke-width="1.1"/>
<line x1="442.50" y1="490.98" x2="449.50" y2="490.98" stroke="#c8102e" stroke-width="1.1"/>
<circle cx="441.50" cy="490.53" r="1.35" fill="#c8102e"/>
<circle cx="444.00" cy="490.77" r="1.35" fill="#c8102e"/>
<circle cx="446.00" cy="491.00" r="1.35" fill="#c8102e"/>
<circle cx="448.00" cy="490.77" r="1.35" fill="#c8102e"/>
<circle cx="450.50" cy="490.53" r="1.35" fill="#c8102e"/>
<line x1="464.10" y1="455.92" x2="464.10" y2="458.28" stroke="#10427f" stroke-width="1.1"/>
<line x1="460.60" y1="455.92" x2="467.60" y2="455.92" stroke="#10427f" stroke-width="1.1"/>
<line x1="460.60" y1="458.28" x2="467.60" y2="458.28" stroke="#10427f" stroke-width="1.1"/>
<rect x="460.45" y="452.35" width="2.90" height="2.90" fill="#10427f"/>
<rect x="464.85" y="452.35" width="2.90" height="2.90" fill="#10427f"/>
<rect x="458.85" y="455.06" width="2.90" height="2.90" fill="#10427f"/>
<rect x="462.65" y="456.15" width="2.90" height="2.90" fill="#10427f"/>
<rect x="466.55" y="457.28" width="2.90" height="2.90" fill="#10427f"/>
<text x="464.10" y="451.49" font-size="7" fill="#111" stroke="#111" stroke-width="0.3" text-anchor="middle">*</text>
<line x1="482.50" y1="490.63" x2="482.50" y2="491.19" stroke="#23a843" stroke-width="1.1"/>
<line x1="479.00" y1="490.63" x2="486.00" y2="490.63" stroke="#23a843" stroke-width="1.1"/>
<line x1="479.00" y1="491.19" x2="486.00" y2="491.19" stroke="#23a843" stroke-width="1.1"/>
<circle cx="478.00" cy="490.77" r="1.35" fill="#23a843"/>
<circle cx="480.50" cy="491.00" r="1.35" fill="#23a843"/>
<circle cx="482.50" cy="491.24" r="1.35" fill="#23a843"/>
<circle cx="484.50" cy="491.00" r="1.35" fill="#23a843"/>
<circle cx="487.00" cy="490.77" r="1.35" fill="#23a843"/>
<line x1="500.20" y1="442.59" x2="500.20" y2="446.12" stroke="#4a1466" stroke-width="1.1"/>
<line x1="497.60" y1="442.59" x2="502.80" y2="442.59" stroke="#4a1466" stroke-width="1.1"/>
<line x1="497.60" y1="446.12" x2="502.80" y2="446.12" stroke="#4a1466" stroke-width="1.1"/>
<path d="M495.50,439.41 L498.70,439.41 L497.10,442.21 Z" fill="#4a1466"/>
<path d="M500.40,439.41 L503.60,439.41 L502.00,442.21 Z" fill="#4a1466"/>
<path d="M493.80,444.33 L497.00,444.33 L495.40,447.13 Z" fill="#4a1466"/>
<path d="M498.10,446.92 L501.30,446.92 L499.70,449.72 Z" fill="#4a1466"/>
<path d="M501.90,444.57 L505.10,444.57 L503.50,447.37 Z" fill="#4a1466"/>
<text x="496.00" y="438.90" font-size="7" fill="#111" stroke="#111" stroke-width="0.3" text-anchor="middle">*</text>
<text x="502.30" y="437.40" font-size="6.5" fill="#111" stroke="#111" stroke-width="0.3" text-anchor="middle">#</text>
<text x="449.50" y="507.00" font-size="7.8" fill="#1a1a1a" stroke="#1a1a1a" stroke-width="0.3" text-anchor="end" transform="rotate(-35 449.50 507.00)">Ctrl</text>
<text x="467.60" y="507.00" font-size="7.8" fill="#1a1a1a" stroke="#1a1a1a" stroke-width="0.3" text-anchor="end" transform="rotate(-35 467.60 507.00)">Thrombin</text>
<text x="486.00" y="507.00" font-size="7.8" fill="#1a1a1a" stroke="#1a1a1a" stroke-width="0.3" text-anchor="end" transform="rotate(-35 486.00 507.00)">HHcy</text>
<text x="503.70" y="507.00" font-size="7.8" fill="#1a1a1a" stroke="#1a1a1a" stroke-width="0.3" text-anchor="end" transform="rotate(-35 503.70 507.00)">HHcy+Thrombin</text>
<text x="408.20" y="467.70" font-size="9" fill="#1a1a1a" stroke="#1a1a1a" stroke-width="0.3" text-anchor="middle" textLength="41.8" lengthAdjust="spacingAndGlyphs" transform="rotate(-90 408.20 467.70)">P-Selectin MFI</text>
<rect x="0.5" y="0.5" width="519" height="543" fill="none" stroke="#000" stroke-width="1"/>
</svg>
</body></html>
